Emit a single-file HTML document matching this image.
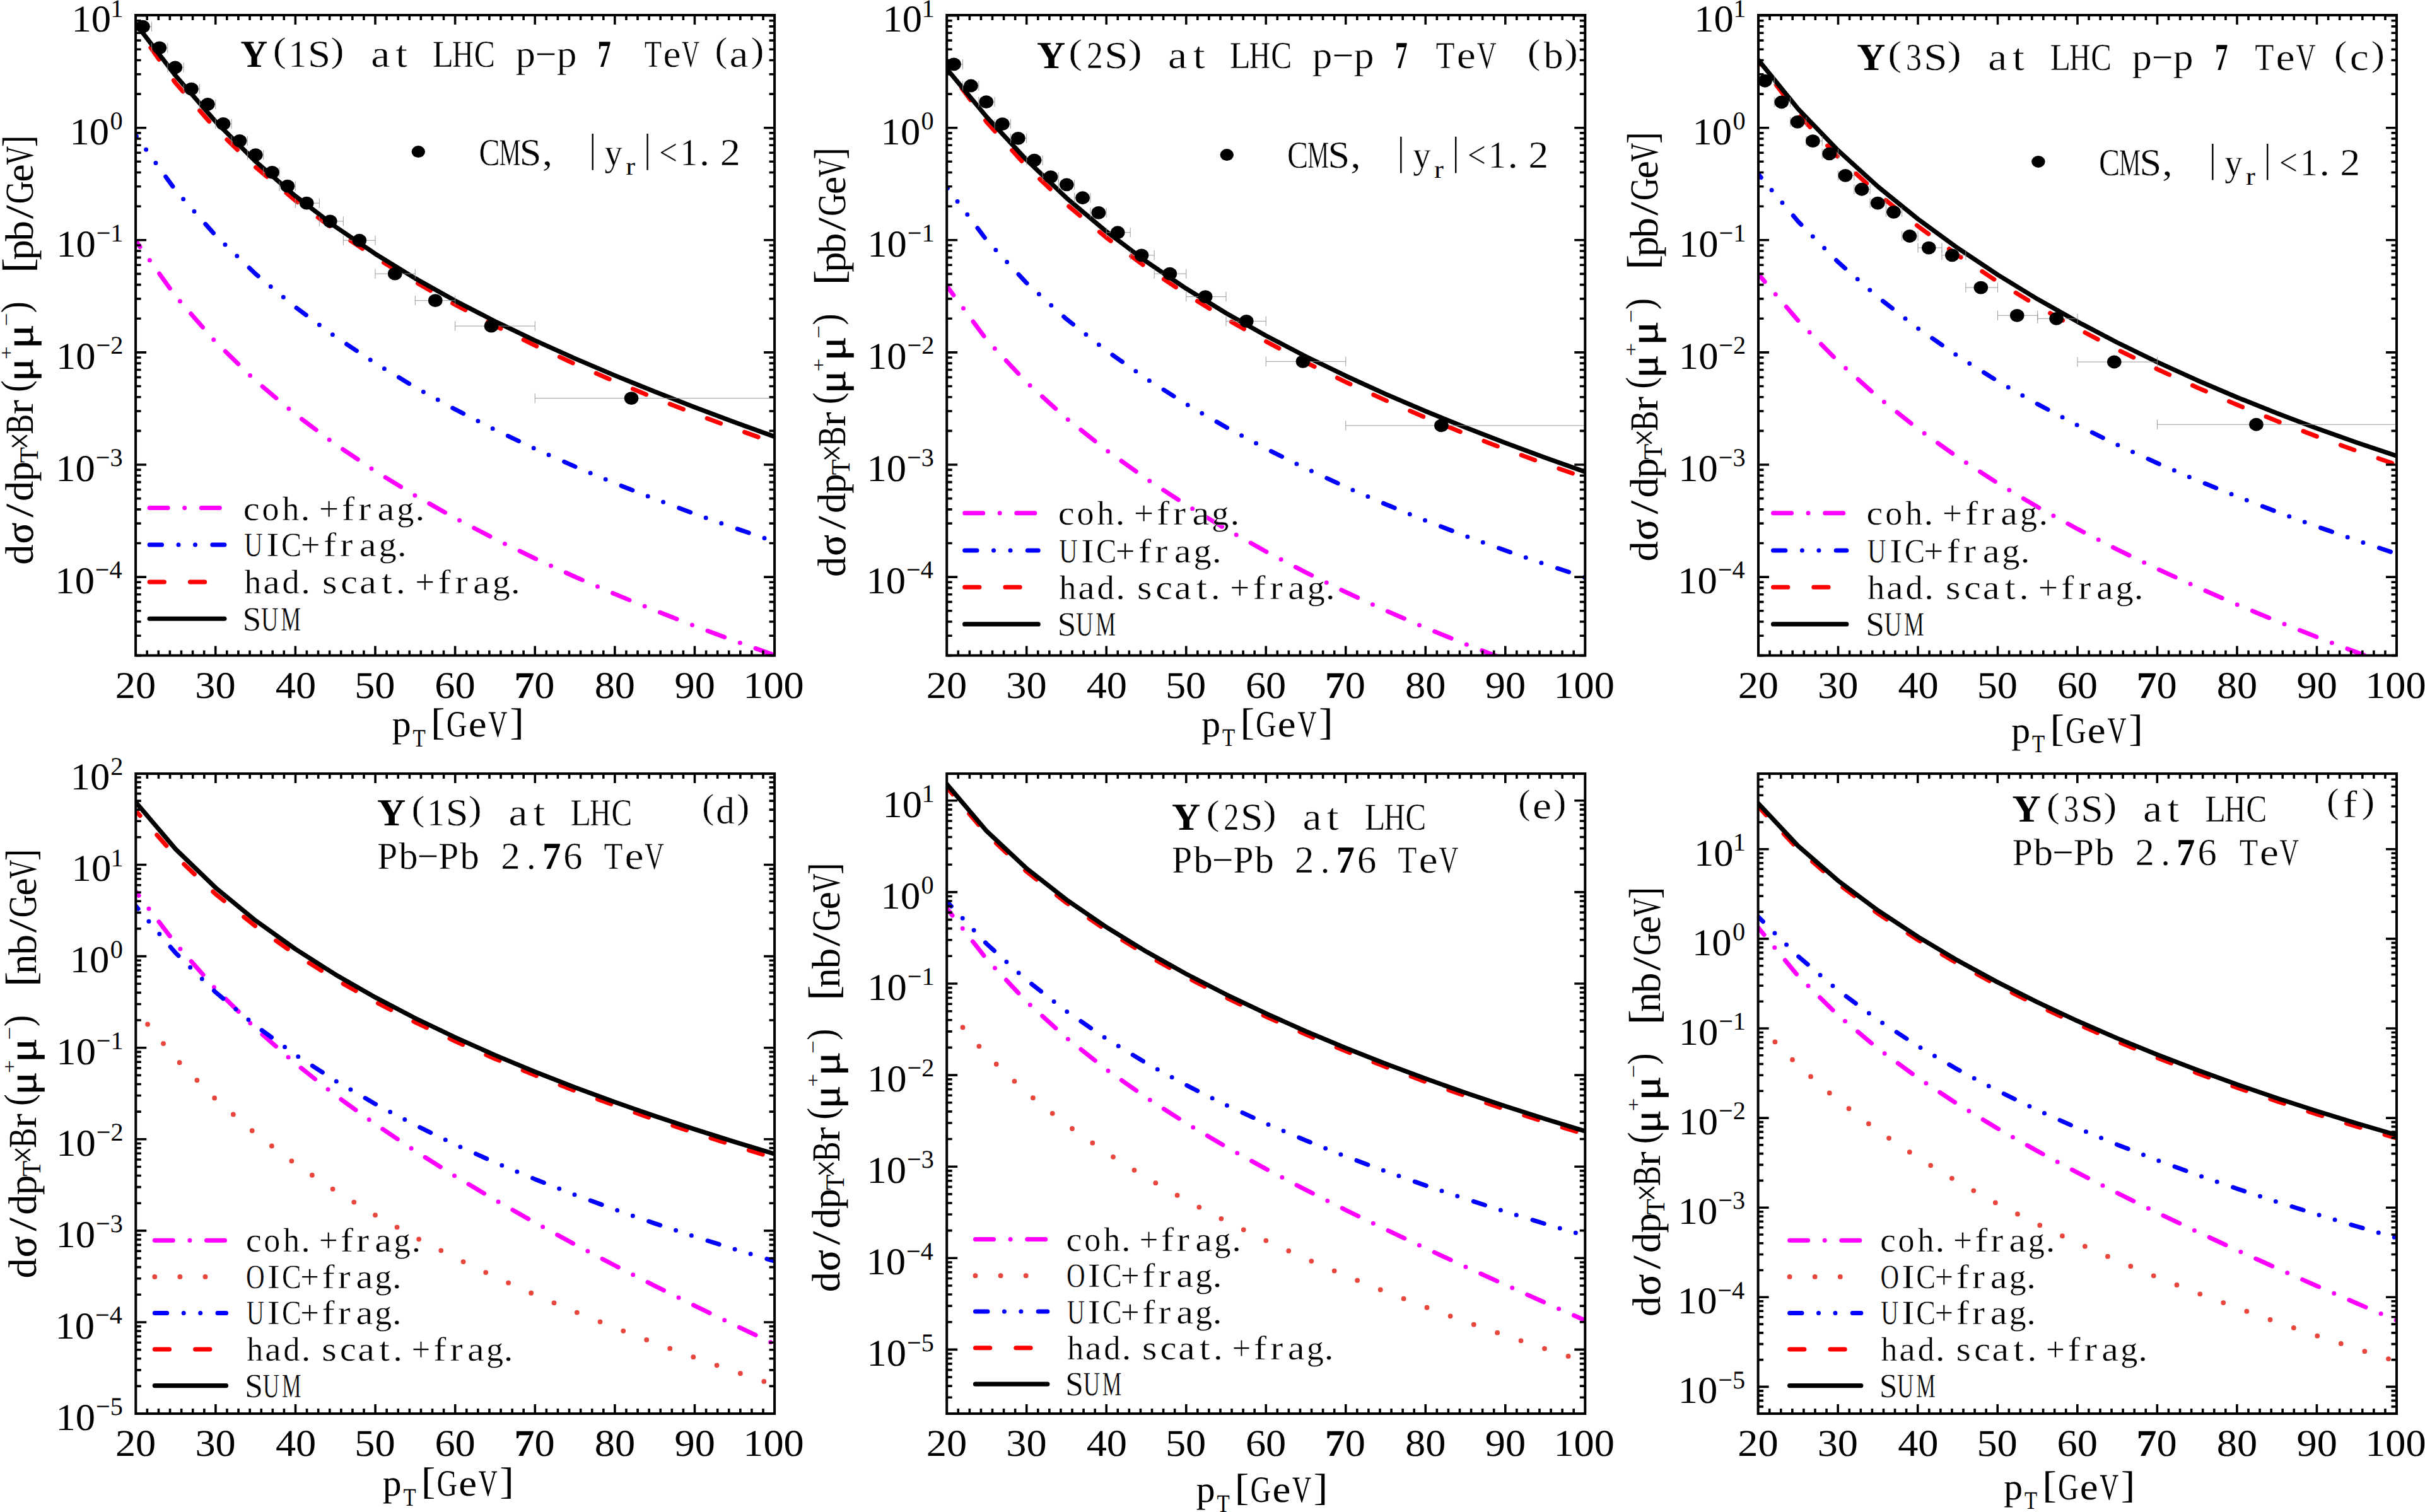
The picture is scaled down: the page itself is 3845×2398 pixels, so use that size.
<!DOCTYPE html>
<html><head><meta charset="utf-8"><title>Upsilon pT spectra</title>
<style>html,body{margin:0;padding:0;background:#fff;}svg{display:block;}text{font-family:"Liberation Serif",serif;font-kerning:none;text-rendering:geometricPrecision;}.t{stroke:#fff;stroke-width:0.45px;paint-order:normal;}</style>
</head><body>
<svg width="3845" height="2398" viewBox="0 0 3845 2398">
<rect width="3845" height="2398" fill="#fff"/>
<clipPath id="clip-a"><rect x="215.1" y="24" width="1013" height="1015.6"/></clipPath>
<g clip-path="url(#clip-a)"><path d="M215.1 381.87 L278.41 469.83 L341.72 542.16 L405.04 603.61 L468.35 657.1 L531.66 704.51 L594.97 747.18 L658.29 786.02 L721.6 821.73 L784.91 854.84 L848.22 885.74 L911.54 914.76 L974.85 942.15 L1038.16 968.12 L1101.47 992.84 L1164.79 1016.45 L1228.1 1039.07" fill="none" stroke="#FF00FF" stroke-width="7" stroke-linecap="round" stroke-linejoin="round" stroke-dasharray="28.57 26.2 0 26.2" stroke-dashoffset="16.71"/><path d="M215.1 214.53 L278.41 301.83 L341.72 373.42 L405.04 434.2 L468.35 487.06 L531.66 533.89 L594.97 575.96 L658.29 614.18 L721.6 649.23 L784.91 681.61 L848.22 711.73 L911.54 739.89 L974.85 766.36 L1038.16 791.32 L1101.47 814.97 L1164.79 837.43 L1228.1 858.83" fill="none" stroke="#0000FF" stroke-width="7" stroke-linecap="round" stroke-linejoin="round" stroke-dasharray="19.11 26.1 0 26.1 0 26.89" stroke-dashoffset="17.08"/><path d="M215.1 41.58 L278.41 131.74 L341.72 204.04 L405.04 265 L468.35 318.08 L531.66 365.31 L594.97 408.02 L658.29 447.08 L721.6 483.12 L784.91 516.62 L848.22 547.92 L911.54 577.32 L974.85 605.04 L1038.16 631.26 L1101.47 656.14 L1164.79 679.79 L1228.1 702.34" fill="none" stroke="#FF0000" stroke-width="7" stroke-linecap="round" stroke-linejoin="round" stroke-dasharray="22.95 40.38" stroke-dashoffset="21.82"/><path d="M215.1 37.56 L278.41 119.99 L341.72 192.7 L405.04 255.86 L468.35 310.93 L531.66 359.4 L594.97 402.58 L658.29 441.49 L721.6 476.96 L784.91 509.63 L848.22 540.02 L911.54 568.53 L974.85 595.5 L1038.16 621.19 L1101.47 645.82 L1164.79 669.56 L1228.1 692.56" fill="none" stroke="#000" stroke-width="7.2" stroke-linecap="round" stroke-linejoin="round"/><path d="M215.1 42.24H240.42M215.1 34.54V49.94M240.42 34.54V49.94M240.42 75.97H265.75M240.42 68.27V83.67M265.75 68.27V83.67M265.75 107H291.07M265.75 99.3V114.7M291.07 99.3V114.7M291.07 141.07H316.4M291.07 133.37V148.77M316.4 133.37V148.77M316.4 165.35H341.72M316.4 157.65V173.05M341.72 157.65V173.05M341.72 196.39H367.05M341.72 188.69V204.09M367.05 188.69V204.09M367.05 223.37H392.38M367.05 215.67V231.07M392.38 215.67V231.07M392.38 245.63H417.7M392.38 237.93V253.33M417.7 237.93V253.33M417.7 273.29H443.02M417.7 265.59V280.99M443.02 265.59V280.99M443.02 295.21H468.35M443.02 287.51V302.91M468.35 287.51V302.91M468.35 322.2H506.34M468.35 314.5V329.9M506.34 314.5V329.9M506.34 350.87H544.32M506.34 343.17V358.57M544.32 343.17V358.57M544.32 381.23H594.97M544.32 373.53V388.93M594.97 373.53V388.93M594.97 434.18H658.29M594.97 426.48V441.88M658.29 426.48V441.88M658.29 476.68H721.6M658.29 468.98V484.38M721.6 468.98V484.38M721.6 517.14H848.22M721.6 509.44V524.84M848.22 509.44V524.84M848.22 631.59H1228.1M848.22 623.89V639.29M1228.1 623.89V639.29" stroke="#909090" stroke-width="0.9" fill="none"/><ellipse cx="226.49" cy="42.24" rx="11.3" ry="10.4"/><ellipse cx="252.8" cy="75.97" rx="11.3" ry="10.4"/><ellipse cx="277.76" cy="107" rx="11.3" ry="10.4"/><ellipse cx="303.4" cy="141.07" rx="11.3" ry="10.4"/><ellipse cx="329.37" cy="165.35" rx="11.3" ry="10.4"/><ellipse cx="353.99" cy="196.39" rx="11.3" ry="10.4"/><ellipse cx="379.96" cy="223.37" rx="11.3" ry="10.4"/><ellipse cx="405.26" cy="245.63" rx="11.3" ry="10.4"/><ellipse cx="431.57" cy="273.29" rx="11.3" ry="10.4"/><ellipse cx="455.86" cy="295.21" rx="11.3" ry="10.4"/><ellipse cx="486.21" cy="322.2" rx="11.3" ry="10.4"/><ellipse cx="523.32" cy="350.87" rx="11.3" ry="10.4"/><ellipse cx="569.87" cy="381.23" rx="11.3" ry="10.4"/><ellipse cx="626.2" cy="434.18" rx="11.3" ry="10.4"/><ellipse cx="690.28" cy="476.68" rx="11.3" ry="10.4"/><ellipse cx="779.03" cy="517.14" rx="11.3" ry="10.4"/><ellipse cx="1001.07" cy="631.59" rx="11.3" ry="10.4"/></g>
<path d="M233.19 1039.6V1031.6M233.19 24V32M251.28 1039.6V1031.6M251.28 24V32M269.37 1039.6V1031.6M269.37 24V32M287.46 1039.6V1031.6M287.46 24V32M305.55 1039.6V1031.6M305.55 24V32M323.64 1039.6V1031.6M323.64 24V32M341.72 1039.6V1024.6M341.72 24V39M359.81 1039.6V1031.6M359.81 24V32M377.9 1039.6V1031.6M377.9 24V32M395.99 1039.6V1031.6M395.99 24V32M414.08 1039.6V1031.6M414.08 24V32M432.17 1039.6V1031.6M432.17 24V32M450.26 1039.6V1031.6M450.26 24V32M468.35 1039.6V1024.6M468.35 24V39M486.44 1039.6V1031.6M486.44 24V32M504.53 1039.6V1031.6M504.53 24V32M522.62 1039.6V1031.6M522.62 24V32M540.71 1039.6V1031.6M540.71 24V32M558.8 1039.6V1031.6M558.8 24V32M576.89 1039.6V1031.6M576.89 24V32M594.97 1039.6V1024.6M594.97 24V39M613.06 1039.6V1031.6M613.06 24V32M631.15 1039.6V1031.6M631.15 24V32M649.24 1039.6V1031.6M649.24 24V32M667.33 1039.6V1031.6M667.33 24V32M685.42 1039.6V1031.6M685.42 24V32M703.51 1039.6V1031.6M703.51 24V32M721.6 1039.6V1024.6M721.6 24V39M739.69 1039.6V1031.6M739.69 24V32M757.78 1039.6V1031.6M757.78 24V32M775.87 1039.6V1031.6M775.87 24V32M793.96 1039.6V1031.6M793.96 24V32M812.05 1039.6V1031.6M812.05 24V32M830.14 1039.6V1031.6M830.14 24V32M848.22 1039.6V1024.6M848.22 24V39M866.31 1039.6V1031.6M866.31 24V32M884.4 1039.6V1031.6M884.4 24V32M902.49 1039.6V1031.6M902.49 24V32M920.58 1039.6V1031.6M920.58 24V32M938.67 1039.6V1031.6M938.67 24V32M956.76 1039.6V1031.6M956.76 24V32M974.85 1039.6V1024.6M974.85 24V39M992.94 1039.6V1031.6M992.94 24V32M1011.03 1039.6V1031.6M1011.03 24V32M1029.12 1039.6V1031.6M1029.12 24V32M1047.21 1039.6V1031.6M1047.21 24V32M1065.3 1039.6V1031.6M1065.3 24V32M1083.39 1039.6V1031.6M1083.39 24V32M1101.47 1039.6V1024.6M1101.47 24V39M1119.56 1039.6V1031.6M1119.56 24V32M1137.65 1039.6V1031.6M1137.65 24V32M1155.74 1039.6V1031.6M1155.74 24V32M1173.83 1039.6V1031.6M1173.83 24V32M1191.92 1039.6V1031.6M1191.92 24V32M1210.01 1039.6V1031.6M1210.01 24V32M215.1 1039.59H223.6M1228.1 1039.59H1219.6M215.1 1008.22H223.6M1228.1 1008.22H1219.6M215.1 985.97H223.6M1228.1 985.97H1219.6M215.1 968.71H223.6M1228.1 968.71H1219.6M215.1 954.61H223.6M1228.1 954.61H1219.6M215.1 942.69H223.6M1228.1 942.69H1219.6M215.1 932.36H223.6M1228.1 932.36H1219.6M215.1 923.25H223.6M1228.1 923.25H1219.6M215.1 915.1H232.1M1228.1 915.1H1211.1M215.1 861.49H223.6M1228.1 861.49H1219.6M215.1 830.12H223.6M1228.1 830.12H1219.6M215.1 807.87H223.6M1228.1 807.87H1219.6M215.1 790.61H223.6M1228.1 790.61H1219.6M215.1 776.51H223.6M1228.1 776.51H1219.6M215.1 764.59H223.6M1228.1 764.59H1219.6M215.1 754.26H223.6M1228.1 754.26H1219.6M215.1 745.15H223.6M1228.1 745.15H1219.6M215.1 737H232.1M1228.1 737H1211.1M215.1 683.39H223.6M1228.1 683.39H1219.6M215.1 652.02H223.6M1228.1 652.02H1219.6M215.1 629.77H223.6M1228.1 629.77H1219.6M215.1 612.51H223.6M1228.1 612.51H1219.6M215.1 598.41H223.6M1228.1 598.41H1219.6M215.1 586.49H223.6M1228.1 586.49H1219.6M215.1 576.16H223.6M1228.1 576.16H1219.6M215.1 567.05H223.6M1228.1 567.05H1219.6M215.1 558.9H232.1M1228.1 558.9H1211.1M215.1 505.29H223.6M1228.1 505.29H1219.6M215.1 473.92H223.6M1228.1 473.92H1219.6M215.1 451.67H223.6M1228.1 451.67H1219.6M215.1 434.41H223.6M1228.1 434.41H1219.6M215.1 420.31H223.6M1228.1 420.31H1219.6M215.1 408.39H223.6M1228.1 408.39H1219.6M215.1 398.06H223.6M1228.1 398.06H1219.6M215.1 388.95H223.6M1228.1 388.95H1219.6M215.1 380.8H232.1M1228.1 380.8H1211.1M215.1 327.19H223.6M1228.1 327.19H1219.6M215.1 295.82H223.6M1228.1 295.82H1219.6M215.1 273.57H223.6M1228.1 273.57H1219.6M215.1 256.31H223.6M1228.1 256.31H1219.6M215.1 242.21H223.6M1228.1 242.21H1219.6M215.1 230.29H223.6M1228.1 230.29H1219.6M215.1 219.96H223.6M1228.1 219.96H1219.6M215.1 210.85H223.6M1228.1 210.85H1219.6M215.1 202.7H232.1M1228.1 202.7H1211.1M215.1 149.09H223.6M1228.1 149.09H1219.6M215.1 117.72H223.6M1228.1 117.72H1219.6M215.1 95.47H223.6M1228.1 95.47H1219.6M215.1 78.21H223.6M1228.1 78.21H1219.6M215.1 64.11H223.6M1228.1 64.11H1219.6M215.1 52.19H223.6M1228.1 52.19H1219.6M215.1 41.86H223.6M1228.1 41.86H1219.6M215.1 32.75H223.6M1228.1 32.75H1219.6M215.1 24.6H232.1M1228.1 24.6H1211.1" stroke="#000" stroke-width="3.6" fill="none"/><rect x="215.1" y="24" width="1013" height="1015.6" fill="none" stroke="#000" stroke-width="4"/>
<text transform="translate(182.75 1106.7) scale(1.072 1)" font-size="60">2</text><text transform="translate(214.91 1106.7) scale(1.072 1)" font-size="60">0</text><text transform="translate(309.25 1106.7) scale(1.072 1)" font-size="60">3</text><text transform="translate(341.41 1106.7) scale(1.072 1)" font-size="60">0</text><text transform="translate(436.79 1106.7) scale(1.072 1)" font-size="60">4</text><text transform="translate(468.95 1106.7) scale(1.072 1)" font-size="60">0</text><text transform="translate(562.17 1106.7) scale(1.072 1)" font-size="60">5</text><text transform="translate(594.33 1106.7) scale(1.072 1)" font-size="60">0</text><text transform="translate(689.28 1106.7) scale(1.072 1)" font-size="60">6</text><text transform="translate(721.44 1106.7) scale(1.072 1)" font-size="60">0</text><text transform="translate(815.17 1106.7) scale(1.072 1)" font-size="60" font-weight="bold">7</text><text transform="translate(847.33 1106.7) scale(1.072 1)" font-size="60">0</text><text transform="translate(942.69 1106.7) scale(1.072 1)" font-size="60">8</text><text transform="translate(974.85 1106.7) scale(1.072 1)" font-size="60">0</text><text transform="translate(1069.5 1106.7) scale(1.072 1)" font-size="60">9</text><text transform="translate(1101.66 1106.7) scale(1.072 1)" font-size="60">0</text><text transform="translate(1178.26 1106.7) scale(1.072 1)" font-size="60">1</text><text transform="translate(1210.42 1106.7) scale(1.072 1)" font-size="60">0</text><text transform="translate(1242.58 1106.7) scale(1.072 1)" font-size="60">0</text><text transform="translate(150.85 917.3) scale(1.000 1)" font-size="40.3">−4</text><text transform="translate(87.36 940.9) scale(1.043 1)" font-size="60">10</text><text transform="translate(151.8 739.2) scale(1.000 1)" font-size="40.3">−3</text><text transform="translate(88.3 762.8) scale(1.043 1)" font-size="60">10</text><text transform="translate(152.45 561.1) scale(1.000 1)" font-size="40.3">−2</text><text transform="translate(88.95 584.7) scale(1.043 1)" font-size="60">10</text><text transform="translate(152.64 383) scale(1.000 1)" font-size="40.3">−1</text><text transform="translate(89.15 406.6) scale(1.043 1)" font-size="60">10</text><text transform="translate(174.48 204.9) scale(1.000 1)" font-size="40.3">0</text><text transform="translate(110.52 228.5) scale(1.043 1)" font-size="60">10</text><text transform="translate(175.37 26.8) scale(1.000 1)" font-size="40.3">1</text><text transform="translate(113.41 50.4) scale(1.043 1)" font-size="60">10</text>
<text transform="translate(381.35 105.8) scale(0.982 1.000)" font-size="60.6" font-weight="bold">Υ</text><text class="t" transform="translate(432.8 98.33) scale(1.051 0.928)" font-size="60.6">(</text><text class="t" transform="translate(457.85 105.8) scale(0.937 1.000)" font-size="60.6">1</text><text class="t" transform="translate(487.91 105.8) scale(1.072 1.000)" font-size="60.6">S</text><text class="t" transform="translate(524.28 98.33) scale(1.051 0.928)" font-size="60.6">)</text><text class="t" transform="translate(588.28 105.8) scale(1.120 1.000)" font-size="60.6">a</text><text class="t" transform="translate(627.3 105.8) scale(1.120 1.000)" font-size="60.6">t</text><text class="t" transform="translate(685.83 105.8) scale(0.897 1.000)" font-size="60.6">L</text><text class="t" transform="translate(717.05 105.8) scale(0.770 1.000)" font-size="60.6">H</text><text class="t" transform="translate(751.69 105.8) scale(0.820 1.000)" font-size="60.6">C</text><text class="t" transform="translate(817.59 105.8) scale(1.033 1.000)" font-size="60.6">p</text><text class="t" transform="translate(848.74 105.8) scale(0.988 1.000)" font-size="60.6">−</text><text class="t" transform="translate(882.63 105.8) scale(1.048 1.000)" font-size="60.6">p</text><text transform="translate(947.38 105.8) scale(0.698 1.000)" font-size="60.6" font-weight="bold">7</text><text class="t" transform="translate(1021.69 105.8) scale(0.738 1.000)" font-size="60.6">T</text><text class="t" transform="translate(1051.5 105.8) scale(1.042 1.000)" font-size="60.6">e</text><text class="t" transform="translate(1080.94 105.8) scale(0.644 1.000)" font-size="60.6">V</text><text class="t" transform="translate(1133.39 98.33) scale(0.982 0.928)" font-size="60.6">(</text><text class="t" transform="translate(1156.56 105.8) scale(1.120 1.000)" font-size="60.6">a</text><text class="t" transform="translate(1190.58 98.33) scale(1.034 0.928)" font-size="60.6">)</text>
<path d="M237.1 805.6H355.9" fill="none" stroke="#FF00FF" stroke-width="7" stroke-linecap="round" stroke-linejoin="round" stroke-dasharray="29 26.6 0 26.6"/>
<text class="t" transform="translate(385.78 824.6) scale(1.081 1.000)" font-size="54">c</text>
<text class="t" transform="translate(415.45 824.6) scale(0.998 1.000)" font-size="54">o</text>
<text class="t" transform="translate(447.43 824.6) scale(0.997 1.000)" font-size="54">h</text>
<text class="t" transform="translate(476.56 824.6) scale(1.120 1.000)" font-size="54">.</text>
<text class="t" transform="translate(506.11 824.6) scale(1.023 1.000)" font-size="54">+</text>
<text class="t" transform="translate(542.12 824.6) scale(1.120 1.000)" font-size="54">f</text>
<text class="t" transform="translate(567.93 824.6) scale(1.120 1.000)" font-size="54">r</text>
<text class="t" transform="translate(598.53 824.6) scale(1.120 1.000)" font-size="54">a</text>
<text class="t" transform="translate(629.3 824.6) scale(1.006 1.000)" font-size="54">g</text>
<text class="t" transform="translate(658.33 824.6) scale(1.120 1.000)" font-size="54">.</text>
<path d="M237.1 864H355.9" fill="none" stroke="#0000FF" stroke-width="7" stroke-linecap="round" stroke-linejoin="round" stroke-dasharray="19.4 26.5 0 26.5 0 27.3"/>
<text class="t" transform="translate(387.15 882.2) scale(0.751 1.000)" font-size="54">U</text>
<text class="t" transform="translate(422.13 882.2) scale(1.120 1.000)" font-size="54">I</text>
<text class="t" transform="translate(445.94 882.2) scale(0.895 1.000)" font-size="54">C</text>
<text class="t" transform="translate(476.56 882.2) scale(1.022 1.000)" font-size="54">+</text>
<text class="t" transform="translate(513.01 882.2) scale(1.120 1.000)" font-size="54">f</text>
<text class="t" transform="translate(539.28 882.2) scale(1.120 1.000)" font-size="54">r</text>
<text class="t" transform="translate(569.86 882.2) scale(1.120 1.000)" font-size="54">a</text>
<text class="t" transform="translate(600.53 882.2) scale(1.046 1.000)" font-size="54">g</text>
<text class="t" transform="translate(629.64 882.2) scale(1.120 1.000)" font-size="54">.</text>
<path d="M237.1 922.9H355.9" fill="none" stroke="#FF0000" stroke-width="7" stroke-linecap="round" stroke-linejoin="round" stroke-dasharray="23.3 41"/>
<text class="t" transform="translate(387.48 940.8) scale(0.993 1.000)" font-size="54">h</text>
<text class="t" transform="translate(417.16 940.8) scale(1.110 1.000)" font-size="54">a</text>
<text class="t" transform="translate(447.62 940.8) scale(1.010 1.000)" font-size="54">d</text>
<text class="t" transform="translate(477.08 940.8) scale(1.120 1.000)" font-size="54">.</text>
<text class="t" transform="translate(511.1 940.8) scale(1.120 1.000)" font-size="54">s</text>
<text class="t" transform="translate(540.17 940.8) scale(1.120 1.000)" font-size="54">c</text>
<text class="t" transform="translate(570.06 940.8) scale(1.120 1.000)" font-size="54">a</text>
<text class="t" transform="translate(604.98 940.8) scale(1.120 1.000)" font-size="54">t</text>
<text class="t" transform="translate(627.73 940.8) scale(1.120 1.000)" font-size="54">.</text>
<text class="t" transform="translate(658.14 940.8) scale(1.018 1.000)" font-size="54">+</text>
<text class="t" transform="translate(694.41 940.8) scale(1.120 1.000)" font-size="54">f</text>
<text class="t" transform="translate(721.53 940.8) scale(1.120 1.000)" font-size="54">r</text>
<text class="t" transform="translate(750.08 940.8) scale(1.120 1.000)" font-size="54">a</text>
<text class="t" transform="translate(780.68 940.8) scale(1.042 1.000)" font-size="54">g</text>
<text class="t" transform="translate(809.65 940.8) scale(1.120 1.000)" font-size="54">.</text>
<path d="M237.1 981.25H355.9" fill="none" stroke="#000" stroke-width="7.2" stroke-linecap="round" stroke-linejoin="round"/>
<text class="t" transform="translate(384.41 1000) scale(0.995 1.000)" font-size="54">S</text>
<text class="t" transform="translate(413.99 1000) scale(0.703 1.000)" font-size="54">U</text>
<text class="t" transform="translate(445.32 1000) scale(0.661 1.000)" font-size="54">M</text>
<ellipse cx="663.3" cy="240.6" rx="10.7" ry="9.5"/>
<text class="t" transform="translate(759.49 261.7) scale(0.820 1.000)" font-size="60.6">C</text>
<text class="t" transform="translate(791.45 261.7) scale(0.634 1.000)" font-size="60.6">M</text>
<text class="t" transform="translate(823.86 261.7) scale(1.027 1.000)" font-size="60.6">S</text>
<text class="t" transform="translate(859.39 261.7) scale(1.120 1.000)" font-size="60.6">,</text>
<text class="t" transform="translate(958.55 261.7) scale(0.937 1.000)" font-size="60.6">y</text>
<text class="t" transform="translate(1045.34 261.7) scale(0.849 1.000)" font-size="60.6">&lt;</text>
<text class="t" transform="translate(1078.49 261.7) scale(0.914 1.000)" font-size="60.6">1</text>
<text class="t" transform="translate(1108.57 261.7) scale(1.120 1.000)" font-size="60.6">.</text>
<text class="t" transform="translate(1141.72 261.7) scale(1.058 1.000)" font-size="60.6">2</text>
<text transform="translate(992.31 276.8) scale(1.120 1.000)" font-size="40">r</text>
<path d="M939.73 212.1V269.7 M1026.62 212.1V269.7" stroke="#000" stroke-width="2.4"/>
<text transform="translate(621.74 1168.1) scale(1.014 1.000)" font-size="59">p</text><text transform="translate(654.6 1183.6) scale(0.829 1.000)" font-size="40">T</text><text transform="translate(683.06 1165.27) scale(1.150 1.018)" font-size="59">[</text><text transform="translate(708.06 1168.1) scale(0.759 1.000)" font-size="59">G</text><text transform="translate(742.66 1168.1) scale(1.104 1.000)" font-size="59">e</text><text transform="translate(774.33 1168.1) scale(0.705 1.000)" font-size="59">V</text><text transform="translate(808.14 1165.27) scale(1.150 1.018)" font-size="59">]</text>
<text transform="translate(52.2 878.85) rotate(-90) scale(1.023 1.000)" x="-16.5" font-size="63">d</text><text transform="translate(52.2 844.77) rotate(-90) scale(0.983 1.000)" x="-17.7" font-size="63" stroke="#000" stroke-width="0.7">σ</text><text transform="translate(52.2 809.9) rotate(-90) scale(1.250 1.000)" x="-8.75" font-size="63">/</text><text transform="translate(52.2 778.01) rotate(-90) scale(1.023 1.000)" x="-16.5" font-size="63">d</text><text transform="translate(52.2 748.32) rotate(-90) scale(1.003 1.000)" x="-15.03" font-size="63">p</text><text transform="translate(59.6 721.41) rotate(-90) scale(0.972 1.000)" x="-12.86" font-size="42">T</text><text transform="translate(52.2 699.59) rotate(-90) scale(0.786 1.000)" x="-17.8" font-size="63">×</text><text transform="translate(52.2 673.23) rotate(-90) scale(0.754 1.000)" x="-20.38" font-size="63">B</text><text transform="translate(52.2 645.23) rotate(-90) scale(1.107 1.000)" x="-10.84" font-size="63">r</text><text transform="translate(44.84 612.35) rotate(-90) scale(0.893 0.996)" x="-10.86" font-size="63">(</text><text transform="translate(52.2 585) rotate(-90) scale(1.085 1.000)" x="-18.15" font-size="63" stroke="#000" stroke-width="0.7">μ</text><text transform="translate(20.46 559.59) rotate(-90) scale(1.228 1.000)" x="-8.47" font-size="30">+</text><text transform="translate(52.2 532.28) rotate(-90) scale(1.138 1.000)" x="-18.15" font-size="63" stroke="#000" stroke-width="0.7">μ</text><text transform="translate(20.26 506.87) rotate(-90) scale(1.228 1.000)" x="-8.47" font-size="30">−</text><text transform="translate(44.84 487.49) rotate(-90) scale(0.856 0.996)" x="-10.12" font-size="63">)</text><text transform="translate(50.08 419.59) rotate(-90) scale(1.165 1.059)" x="-11.69" font-size="63">[</text><text transform="translate(52.2 397.02) rotate(-90) scale(1.028 1.000)" x="-15.03" font-size="63">p</text><text transform="translate(52.2 367.62) rotate(-90) scale(1.031 1.000)" x="-14.55" font-size="63">b</text><text transform="translate(52.2 336.28) rotate(-90) scale(1.250 1.000)" x="-8.75" font-size="63">/</text><text transform="translate(52.2 304.99) rotate(-90) scale(0.793 1.000)" x="-23.06" font-size="63">G</text><text transform="translate(52.2 274.35) rotate(-90) scale(1.021 1.000)" x="-14.12" font-size="63">e</text><text transform="translate(52.2 246.75) rotate(-90) scale(0.653 1.000)" x="-22.75" font-size="63">V</text><text transform="translate(50.08 224.88) rotate(-90) scale(0.895 1.059)" x="-9.29" font-size="63">]</text>
<clipPath id="clip-b"><rect x="1501.2" y="24" width="1012.1" height="1015.6"/></clipPath>
<g clip-path="url(#clip-b)"><path d="M1501.2 453.59 L1564.46 538.96 L1627.71 606.45 L1690.97 663.62 L1754.23 713.95 L1817.48 759.32 L1880.74 800.81 L1943.99 839.1 L2007.25 874.68 L2070.51 907.89 L2133.76 938.99 L2197.02 968.19 L2260.28 995.65 L2323.53 1021.53 L2386.79 1045.93 L2450.04 1068.96 L2513.3 1090.72" fill="none" stroke="#FF00FF" stroke-width="7" stroke-linecap="round" stroke-linejoin="round" stroke-dasharray="28.57 26.2 0 26.2" stroke-dashoffset="10.67"/><path d="M1501.2 296.95 L1564.46 381.04 L1627.71 448.77 L1690.97 506.06 L1754.23 556.04 L1817.48 600.56 L1880.74 640.81 L1943.99 677.59 L2007.25 711.5 L2070.51 742.95 L2133.76 772.29 L2197.02 799.77 L2260.28 825.62 L2323.53 850 L2386.79 873.06 L2450.04 894.93 L2513.3 915.7" fill="none" stroke="#0000FF" stroke-width="7" stroke-linecap="round" stroke-linejoin="round" stroke-dasharray="19.11 26.1 0 26.1 0 26.89" stroke-dashoffset="17.14"/><path d="M1501.2 107.63 L1564.46 193.57 L1627.71 264.01 L1690.97 324.14 L1754.23 376.87 L1817.48 423.96 L1880.74 466.58 L1943.99 505.55 L2007.25 541.47 L2070.51 574.78 L2133.76 605.85 L2197.02 634.94 L2260.28 662.3 L2323.53 688.1 L2386.79 712.5 L2450.04 735.64 L2513.3 757.63" fill="none" stroke="#FF0000" stroke-width="7" stroke-linecap="round" stroke-linejoin="round" stroke-dasharray="22.95 40.38" stroke-dashoffset="23.07"/><path d="M1501.2 109.22 L1564.46 185.54 L1627.71 253.73 L1690.97 313.91 L1754.23 367.21 L1817.48 414.79 L1880.74 457.66 L1943.99 496.62 L2007.25 532.35 L2070.51 565.37 L2133.76 596.11 L2197.02 624.92 L2260.28 652.07 L2323.53 677.81 L2386.79 702.33 L2450.04 725.78 L2513.3 748.3" fill="none" stroke="#000" stroke-width="7.2" stroke-linecap="round" stroke-linejoin="round"/><path d="M1501.2 101.94H1526.5M1501.2 94.24V109.64M1526.5 94.24V109.64M1526.5 136.01H1551.81M1526.5 128.31V143.71M1551.81 128.31V143.71M1551.81 161.64H1577.11M1551.81 153.94V169.34M1577.11 153.94V169.34M1577.11 196.72H1602.41M1577.11 189.02V204.42M1602.41 189.02V204.42M1602.41 219.32H1627.71M1602.41 211.62V227.02M1627.71 211.62V227.02M1627.71 254.06H1653.02M1627.71 246.36V261.76M1653.02 246.36V261.76M1653.02 280.71H1678.32M1653.02 273.01V288.41M1678.32 273.01V288.41M1678.32 292.85H1703.62M1678.32 285.15V300.55M1703.62 285.15V300.55M1703.62 313.77H1728.92M1703.62 306.07V321.47M1728.92 306.07V321.47M1728.92 337.38H1754.23M1728.92 329.68V345.08M1754.23 329.68V345.08M1754.23 368.75H1792.18M1754.23 361.05V376.45M1792.18 361.05V376.45M1792.18 404.84H1830.13M1792.18 397.14V412.54M1830.13 397.14V412.54M1830.13 434.18H1880.74M1830.13 426.48V441.88M1880.74 426.48V441.88M1880.74 470.61H1943.99M1880.74 462.91V478.31M1943.99 462.91V478.31M1943.99 509.4H2007.25M1943.99 501.7V517.1M2007.25 501.7V517.1M2007.25 573.35H2133.76M2007.25 565.65V581.05M2133.76 565.65V581.05M2133.76 674.94H2513.3M2133.76 667.24V682.64M2513.3 667.24V682.64" stroke="#909090" stroke-width="0.9" fill="none"/><ellipse cx="1512.49" cy="101.94" rx="11.3" ry="10.4"/><ellipse cx="1539.48" cy="136.01" rx="11.3" ry="10.4"/><ellipse cx="1563.76" cy="161.64" rx="11.3" ry="10.4"/><ellipse cx="1589.4" cy="196.72" rx="11.3" ry="10.4"/><ellipse cx="1614.36" cy="219.32" rx="11.3" ry="10.4"/><ellipse cx="1639.99" cy="254.06" rx="11.3" ry="10.4"/><ellipse cx="1665.96" cy="280.71" rx="11.3" ry="10.4"/><ellipse cx="1691.26" cy="292.85" rx="11.3" ry="10.4"/><ellipse cx="1716.56" cy="313.77" rx="11.3" ry="10.4"/><ellipse cx="1741.86" cy="337.38" rx="11.3" ry="10.4"/><ellipse cx="1772.21" cy="368.75" rx="11.3" ry="10.4"/><ellipse cx="1809.99" cy="404.84" rx="11.3" ry="10.4"/><ellipse cx="1854.85" cy="434.18" rx="11.3" ry="10.4"/><ellipse cx="1911.18" cy="470.61" rx="11.3" ry="10.4"/><ellipse cx="1976.28" cy="509.4" rx="11.3" ry="10.4"/><ellipse cx="2065.95" cy="573.35" rx="11.3" ry="10.4"/><ellipse cx="2285.39" cy="674.94" rx="11.3" ry="10.4"/></g>
<path d="M1519.27 1039.6V1031.6M1519.27 24V32M1537.35 1039.6V1031.6M1537.35 24V32M1555.42 1039.6V1031.6M1555.42 24V32M1573.49 1039.6V1031.6M1573.49 24V32M1591.57 1039.6V1031.6M1591.57 24V32M1609.64 1039.6V1031.6M1609.64 24V32M1627.71 1039.6V1024.6M1627.71 24V39M1645.79 1039.6V1031.6M1645.79 24V32M1663.86 1039.6V1031.6M1663.86 24V32M1681.93 1039.6V1031.6M1681.93 24V32M1700.01 1039.6V1031.6M1700.01 24V32M1718.08 1039.6V1031.6M1718.08 24V32M1736.15 1039.6V1031.6M1736.15 24V32M1754.23 1039.6V1024.6M1754.23 24V39M1772.3 1039.6V1031.6M1772.3 24V32M1790.37 1039.6V1031.6M1790.37 24V32M1808.44 1039.6V1031.6M1808.44 24V32M1826.52 1039.6V1031.6M1826.52 24V32M1844.59 1039.6V1031.6M1844.59 24V32M1862.66 1039.6V1031.6M1862.66 24V32M1880.74 1039.6V1024.6M1880.74 24V39M1898.81 1039.6V1031.6M1898.81 24V32M1916.88 1039.6V1031.6M1916.88 24V32M1934.96 1039.6V1031.6M1934.96 24V32M1953.03 1039.6V1031.6M1953.03 24V32M1971.1 1039.6V1031.6M1971.1 24V32M1989.18 1039.6V1031.6M1989.18 24V32M2007.25 1039.6V1024.6M2007.25 24V39M2025.32 1039.6V1031.6M2025.32 24V32M2043.4 1039.6V1031.6M2043.4 24V32M2061.47 1039.6V1031.6M2061.47 24V32M2079.54 1039.6V1031.6M2079.54 24V32M2097.62 1039.6V1031.6M2097.62 24V32M2115.69 1039.6V1031.6M2115.69 24V32M2133.76 1039.6V1024.6M2133.76 24V39M2151.84 1039.6V1031.6M2151.84 24V32M2169.91 1039.6V1031.6M2169.91 24V32M2187.98 1039.6V1031.6M2187.98 24V32M2206.06 1039.6V1031.6M2206.06 24V32M2224.13 1039.6V1031.6M2224.13 24V32M2242.2 1039.6V1031.6M2242.2 24V32M2260.28 1039.6V1024.6M2260.28 24V39M2278.35 1039.6V1031.6M2278.35 24V32M2296.42 1039.6V1031.6M2296.42 24V32M2314.49 1039.6V1031.6M2314.49 24V32M2332.57 1039.6V1031.6M2332.57 24V32M2350.64 1039.6V1031.6M2350.64 24V32M2368.71 1039.6V1031.6M2368.71 24V32M2386.79 1039.6V1024.6M2386.79 24V39M2404.86 1039.6V1031.6M2404.86 24V32M2422.93 1039.6V1031.6M2422.93 24V32M2441.01 1039.6V1031.6M2441.01 24V32M2459.08 1039.6V1031.6M2459.08 24V32M2477.15 1039.6V1031.6M2477.15 24V32M2495.23 1039.6V1031.6M2495.23 24V32M1501.2 1039.59H1509.7M2513.3 1039.59H2504.8M1501.2 1008.22H1509.7M2513.3 1008.22H2504.8M1501.2 985.97H1509.7M2513.3 985.97H2504.8M1501.2 968.71H1509.7M2513.3 968.71H2504.8M1501.2 954.61H1509.7M2513.3 954.61H2504.8M1501.2 942.69H1509.7M2513.3 942.69H2504.8M1501.2 932.36H1509.7M2513.3 932.36H2504.8M1501.2 923.25H1509.7M2513.3 923.25H2504.8M1501.2 915.1H1518.2M2513.3 915.1H2496.3M1501.2 861.49H1509.7M2513.3 861.49H2504.8M1501.2 830.12H1509.7M2513.3 830.12H2504.8M1501.2 807.87H1509.7M2513.3 807.87H2504.8M1501.2 790.61H1509.7M2513.3 790.61H2504.8M1501.2 776.51H1509.7M2513.3 776.51H2504.8M1501.2 764.59H1509.7M2513.3 764.59H2504.8M1501.2 754.26H1509.7M2513.3 754.26H2504.8M1501.2 745.15H1509.7M2513.3 745.15H2504.8M1501.2 737H1518.2M2513.3 737H2496.3M1501.2 683.39H1509.7M2513.3 683.39H2504.8M1501.2 652.02H1509.7M2513.3 652.02H2504.8M1501.2 629.77H1509.7M2513.3 629.77H2504.8M1501.2 612.51H1509.7M2513.3 612.51H2504.8M1501.2 598.41H1509.7M2513.3 598.41H2504.8M1501.2 586.49H1509.7M2513.3 586.49H2504.8M1501.2 576.16H1509.7M2513.3 576.16H2504.8M1501.2 567.05H1509.7M2513.3 567.05H2504.8M1501.2 558.9H1518.2M2513.3 558.9H2496.3M1501.2 505.29H1509.7M2513.3 505.29H2504.8M1501.2 473.92H1509.7M2513.3 473.92H2504.8M1501.2 451.67H1509.7M2513.3 451.67H2504.8M1501.2 434.41H1509.7M2513.3 434.41H2504.8M1501.2 420.31H1509.7M2513.3 420.31H2504.8M1501.2 408.39H1509.7M2513.3 408.39H2504.8M1501.2 398.06H1509.7M2513.3 398.06H2504.8M1501.2 388.95H1509.7M2513.3 388.95H2504.8M1501.2 380.8H1518.2M2513.3 380.8H2496.3M1501.2 327.19H1509.7M2513.3 327.19H2504.8M1501.2 295.82H1509.7M2513.3 295.82H2504.8M1501.2 273.57H1509.7M2513.3 273.57H2504.8M1501.2 256.31H1509.7M2513.3 256.31H2504.8M1501.2 242.21H1509.7M2513.3 242.21H2504.8M1501.2 230.29H1509.7M2513.3 230.29H2504.8M1501.2 219.96H1509.7M2513.3 219.96H2504.8M1501.2 210.85H1509.7M2513.3 210.85H2504.8M1501.2 202.7H1518.2M2513.3 202.7H2496.3M1501.2 149.09H1509.7M2513.3 149.09H2504.8M1501.2 117.72H1509.7M2513.3 117.72H2504.8M1501.2 95.47H1509.7M2513.3 95.47H2504.8M1501.2 78.21H1509.7M2513.3 78.21H2504.8M1501.2 64.11H1509.7M2513.3 64.11H2504.8M1501.2 52.19H1509.7M2513.3 52.19H2504.8M1501.2 41.86H1509.7M2513.3 41.86H2504.8M1501.2 32.75H1509.7M2513.3 32.75H2504.8M1501.2 24.6H1518.2M2513.3 24.6H2496.3" stroke="#000" stroke-width="3.6" fill="none"/><rect x="1501.2" y="24" width="1012.1" height="1015.6" fill="none" stroke="#000" stroke-width="4"/>
<text transform="translate(1468.85 1106.7) scale(1.072 1)" font-size="60">2</text><text transform="translate(1501.01 1106.7) scale(1.072 1)" font-size="60">0</text><text transform="translate(1595.24 1106.7) scale(1.072 1)" font-size="60">3</text><text transform="translate(1627.4 1106.7) scale(1.072 1)" font-size="60">0</text><text transform="translate(1722.66 1106.7) scale(1.072 1)" font-size="60">4</text><text transform="translate(1754.82 1106.7) scale(1.072 1)" font-size="60">0</text><text transform="translate(1847.93 1106.7) scale(1.072 1)" font-size="60">5</text><text transform="translate(1880.09 1106.7) scale(1.072 1)" font-size="60">0</text><text transform="translate(1974.93 1106.7) scale(1.072 1)" font-size="60">6</text><text transform="translate(2007.09 1106.7) scale(1.072 1)" font-size="60">0</text><text transform="translate(2100.71 1106.7) scale(1.072 1)" font-size="60" font-weight="bold">7</text><text transform="translate(2132.87 1106.7) scale(1.072 1)" font-size="60">0</text><text transform="translate(2228.12 1106.7) scale(1.072 1)" font-size="60">8</text><text transform="translate(2260.28 1106.7) scale(1.072 1)" font-size="60">0</text><text transform="translate(2354.82 1106.7) scale(1.072 1)" font-size="60">9</text><text transform="translate(2386.98 1106.7) scale(1.072 1)" font-size="60">0</text><text transform="translate(2463.46 1106.7) scale(1.072 1)" font-size="60">1</text><text transform="translate(2495.62 1106.7) scale(1.072 1)" font-size="60">0</text><text transform="translate(2527.78 1106.7) scale(1.072 1)" font-size="60">0</text><text transform="translate(1436.95 917.3) scale(1.000 1)" font-size="40.3">−4</text><text transform="translate(1373.46 940.9) scale(1.043 1)" font-size="60">10</text><text transform="translate(1437.9 739.2) scale(1.000 1)" font-size="40.3">−3</text><text transform="translate(1374.4 762.8) scale(1.043 1)" font-size="60">10</text><text transform="translate(1438.55 561.1) scale(1.000 1)" font-size="40.3">−2</text><text transform="translate(1375.05 584.7) scale(1.043 1)" font-size="60">10</text><text transform="translate(1438.74 383) scale(1.000 1)" font-size="40.3">−1</text><text transform="translate(1375.25 406.6) scale(1.043 1)" font-size="60">10</text><text transform="translate(1460.58 204.9) scale(1.000 1)" font-size="40.3">0</text><text transform="translate(1396.62 228.5) scale(1.043 1)" font-size="60">10</text><text transform="translate(1461.47 26.8) scale(1.000 1)" font-size="40.3">1</text><text transform="translate(1399.51 50.4) scale(1.043 1)" font-size="60">10</text>
<text transform="translate(1644.1 108.1) scale(1.033 1.000)" font-size="60.6" font-weight="bold">Υ</text><text class="t" transform="translate(1694.21 100.63) scale(1.087 0.928)" font-size="60.6">(</text><text class="t" transform="translate(1722.99 108.1) scale(0.851 1.000)" font-size="60.6">2</text><text class="t" transform="translate(1751.17 108.1) scale(1.108 1.000)" font-size="60.6">S</text><text class="t" transform="translate(1788.76 100.63) scale(1.087 0.928)" font-size="60.6">)</text><text class="t" transform="translate(1851.89 108.1) scale(1.120 1.000)" font-size="60.6">a</text><text class="t" transform="translate(1891.64 108.1) scale(1.120 1.000)" font-size="60.6">t</text><text class="t" transform="translate(1949.64 108.1) scale(0.893 1.000)" font-size="60.6">L</text><text class="t" transform="translate(1980.72 108.1) scale(0.767 1.000)" font-size="60.6">H</text><text class="t" transform="translate(2015.22 108.1) scale(0.817 1.000)" font-size="60.6">C</text><text class="t" transform="translate(2080.78 108.1) scale(1.044 1.000)" font-size="60.6">p</text><text class="t" transform="translate(2112.26 108.1) scale(0.998 1.000)" font-size="60.6">−</text><text class="t" transform="translate(2146.51 108.1) scale(1.059 1.000)" font-size="60.6">p</text><text transform="translate(2211.96 108.1) scale(0.647 1.000)" font-size="60.6" font-weight="bold">7</text><text class="t" transform="translate(2276.82 108.1) scale(0.808 1.000)" font-size="60.6">T</text><text class="t" transform="translate(2309.74 108.1) scale(1.120 1.000)" font-size="60.6">e</text><text class="t" transform="translate(2341.7 108.1) scale(0.706 1.000)" font-size="60.6">V</text><text class="t" transform="translate(2422.02 100.63) scale(1.005 0.928)" font-size="60.6">(</text><text class="t" transform="translate(2447.68 108.1) scale(1.016 1.000)" font-size="60.6">b</text><text class="t" transform="translate(2480.56 100.63) scale(1.059 0.928)" font-size="60.6">)</text>
<path d="M1529.6 813.8H1646.2" fill="none" stroke="#FF00FF" stroke-width="7" stroke-linecap="round" stroke-linejoin="round" stroke-dasharray="29 26.6 0 26.6"/>
<text class="t" transform="translate(1677.78 832.4) scale(1.081 1.000)" font-size="54">c</text>
<text class="t" transform="translate(1707.45 832.4) scale(0.998 1.000)" font-size="54">o</text>
<text class="t" transform="translate(1739.43 832.4) scale(0.997 1.000)" font-size="54">h</text>
<text class="t" transform="translate(1768.56 832.4) scale(1.120 1.000)" font-size="54">.</text>
<text class="t" transform="translate(1798.11 832.4) scale(1.023 1.000)" font-size="54">+</text>
<text class="t" transform="translate(1834.12 832.4) scale(1.120 1.000)" font-size="54">f</text>
<text class="t" transform="translate(1859.93 832.4) scale(1.120 1.000)" font-size="54">r</text>
<text class="t" transform="translate(1890.53 832.4) scale(1.120 1.000)" font-size="54">a</text>
<text class="t" transform="translate(1921.3 832.4) scale(1.006 1.000)" font-size="54">g</text>
<text class="t" transform="translate(1950.33 832.4) scale(1.120 1.000)" font-size="54">.</text>
<path d="M1529.6 873H1646.2" fill="none" stroke="#0000FF" stroke-width="7" stroke-linecap="round" stroke-linejoin="round" stroke-dasharray="19.4 26.5 0 26.5 0 27.3"/>
<text class="t" transform="translate(1679.15 891.7) scale(0.751 1.000)" font-size="54">U</text>
<text class="t" transform="translate(1714.13 891.7) scale(1.120 1.000)" font-size="54">I</text>
<text class="t" transform="translate(1737.94 891.7) scale(0.895 1.000)" font-size="54">C</text>
<text class="t" transform="translate(1768.56 891.7) scale(1.022 1.000)" font-size="54">+</text>
<text class="t" transform="translate(1805.01 891.7) scale(1.120 1.000)" font-size="54">f</text>
<text class="t" transform="translate(1831.28 891.7) scale(1.120 1.000)" font-size="54">r</text>
<text class="t" transform="translate(1861.86 891.7) scale(1.120 1.000)" font-size="54">a</text>
<text class="t" transform="translate(1892.53 891.7) scale(1.046 1.000)" font-size="54">g</text>
<text class="t" transform="translate(1921.64 891.7) scale(1.120 1.000)" font-size="54">.</text>
<path d="M1529.6 931.3H1646.2" fill="none" stroke="#FF0000" stroke-width="7" stroke-linecap="round" stroke-linejoin="round" stroke-dasharray="23.3 41"/>
<text class="t" transform="translate(1679.48 949.9) scale(0.993 1.000)" font-size="54">h</text>
<text class="t" transform="translate(1709.16 949.9) scale(1.110 1.000)" font-size="54">a</text>
<text class="t" transform="translate(1739.62 949.9) scale(1.010 1.000)" font-size="54">d</text>
<text class="t" transform="translate(1769.08 949.9) scale(1.120 1.000)" font-size="54">.</text>
<text class="t" transform="translate(1803.1 949.9) scale(1.120 1.000)" font-size="54">s</text>
<text class="t" transform="translate(1832.17 949.9) scale(1.120 1.000)" font-size="54">c</text>
<text class="t" transform="translate(1862.06 949.9) scale(1.120 1.000)" font-size="54">a</text>
<text class="t" transform="translate(1896.98 949.9) scale(1.120 1.000)" font-size="54">t</text>
<text class="t" transform="translate(1919.73 949.9) scale(1.120 1.000)" font-size="54">.</text>
<text class="t" transform="translate(1950.14 949.9) scale(1.018 1.000)" font-size="54">+</text>
<text class="t" transform="translate(1986.41 949.9) scale(1.120 1.000)" font-size="54">f</text>
<text class="t" transform="translate(2013.53 949.9) scale(1.120 1.000)" font-size="54">r</text>
<text class="t" transform="translate(2042.08 949.9) scale(1.120 1.000)" font-size="54">a</text>
<text class="t" transform="translate(2072.68 949.9) scale(1.042 1.000)" font-size="54">g</text>
<text class="t" transform="translate(2101.65 949.9) scale(1.120 1.000)" font-size="54">.</text>
<path d="M1529.6 989.9H1646.2" fill="none" stroke="#000" stroke-width="7.2" stroke-linecap="round" stroke-linejoin="round"/>
<text class="t" transform="translate(1676.41 1008.2) scale(0.995 1.000)" font-size="54">S</text>
<text class="t" transform="translate(1705.99 1008.2) scale(0.703 1.000)" font-size="54">U</text>
<text class="t" transform="translate(1737.32 1008.2) scale(0.661 1.000)" font-size="54">M</text>
<ellipse cx="1945.3" cy="245.6" rx="10.7" ry="9.5"/>
<text class="t" transform="translate(2041.09 266.4) scale(0.820 1.000)" font-size="60.6">C</text>
<text class="t" transform="translate(2073.05 266.4) scale(0.634 1.000)" font-size="60.6">M</text>
<text class="t" transform="translate(2105.46 266.4) scale(1.027 1.000)" font-size="60.6">S</text>
<text class="t" transform="translate(2140.99 266.4) scale(1.120 1.000)" font-size="60.6">,</text>
<text class="t" transform="translate(2240.15 266.4) scale(0.937 1.000)" font-size="60.6">y</text>
<text class="t" transform="translate(2326.94 266.4) scale(0.849 1.000)" font-size="60.6">&lt;</text>
<text class="t" transform="translate(2360.09 266.4) scale(0.914 1.000)" font-size="60.6">1</text>
<text class="t" transform="translate(2390.17 266.4) scale(1.120 1.000)" font-size="60.6">.</text>
<text class="t" transform="translate(2423.32 266.4) scale(1.058 1.000)" font-size="60.6">2</text>
<text transform="translate(2273.91 281.5) scale(1.120 1.000)" font-size="40">r</text>
<path d="M2221.33 216.8V274.4 M2308.22 216.8V274.4" stroke="#000" stroke-width="2.4"/>
<text transform="translate(1905.34 1167.8) scale(1.010 1.000)" font-size="59">p</text><text transform="translate(1938.09 1183.3) scale(0.826 1.000)" font-size="40">T</text><text transform="translate(1966.41 1164.97) scale(1.150 1.018)" font-size="59">[</text><text transform="translate(1991.37 1167.8) scale(0.756 1.000)" font-size="59">G</text><text transform="translate(2025.84 1167.8) scale(1.100 1.000)" font-size="59">e</text><text transform="translate(2057.41 1167.8) scale(0.702 1.000)" font-size="59">V</text><text transform="translate(2091.07 1164.97) scale(1.150 1.018)" font-size="59">]</text>
<text transform="translate(1339.6 898.06) rotate(-90) scale(1.022 1.000)" x="-16.5" font-size="63">d</text><text transform="translate(1339.6 863.99) rotate(-90) scale(0.983 1.000)" x="-17.7" font-size="63" stroke="#000" stroke-width="0.7">σ</text><text transform="translate(1339.6 829.13) rotate(-90) scale(1.250 1.000)" x="-8.75" font-size="63">/</text><text transform="translate(1339.6 797.26) rotate(-90) scale(1.022 1.000)" x="-16.5" font-size="63">d</text><text transform="translate(1339.6 767.58) rotate(-90) scale(1.002 1.000)" x="-15.03" font-size="63">p</text><text transform="translate(1347 740.69) rotate(-90) scale(0.971 1.000)" x="-12.86" font-size="42">T</text><text transform="translate(1339.6 718.88) rotate(-90) scale(0.785 1.000)" x="-17.8" font-size="63">×</text><text transform="translate(1339.6 692.53) rotate(-90) scale(0.754 1.000)" x="-20.38" font-size="63">B</text><text transform="translate(1339.6 664.54) rotate(-90) scale(1.107 1.000)" x="-10.84" font-size="63">r</text><text transform="translate(1332.24 631.67) rotate(-90) scale(0.893 0.996)" x="-10.86" font-size="63">(</text><text transform="translate(1339.6 604.33) rotate(-90) scale(1.084 1.000)" x="-18.15" font-size="63" stroke="#000" stroke-width="0.7">μ</text><text transform="translate(1307.86 578.94) rotate(-90) scale(1.227 1.000)" x="-8.47" font-size="30">+</text><text transform="translate(1339.6 551.64) rotate(-90) scale(1.138 1.000)" x="-18.15" font-size="63" stroke="#000" stroke-width="0.7">μ</text><text transform="translate(1307.66 526.25) rotate(-90) scale(1.227 1.000)" x="-8.47" font-size="30">−</text><text transform="translate(1332.24 506.87) rotate(-90) scale(0.856 0.996)" x="-10.12" font-size="63">)</text><text transform="translate(1337.48 439) rotate(-90) scale(1.164 1.059)" x="-11.69" font-size="63">[</text><text transform="translate(1339.6 416.44) rotate(-90) scale(1.027 1.000)" x="-15.03" font-size="63">p</text><text transform="translate(1339.6 387.05) rotate(-90) scale(1.030 1.000)" x="-14.55" font-size="63">b</text><text transform="translate(1339.6 355.73) rotate(-90) scale(1.250 1.000)" x="-8.75" font-size="63">/</text><text transform="translate(1339.6 324.45) rotate(-90) scale(0.793 1.000)" x="-23.06" font-size="63">G</text><text transform="translate(1339.6 293.83) rotate(-90) scale(1.021 1.000)" x="-14.12" font-size="63">e</text><text transform="translate(1339.6 266.24) rotate(-90) scale(0.653 1.000)" x="-22.75" font-size="63">V</text><text transform="translate(1337.48 244.37) rotate(-90) scale(0.895 1.059)" x="-9.29" font-size="63">]</text>
<clipPath id="clip-c"><rect x="2788" y="24" width="1012" height="1015.6"/></clipPath>
<g clip-path="url(#clip-c)"><path d="M2788 434.8 L2851.25 508.75 L2914.5 573.23 L2977.75 629.83 L3041 680.09 L3104.25 725.27 L3167.5 766.34 L3230.75 804.05 L3294 838.98 L3357.25 871.59 L3420.5 902.24 L3483.75 931.23 L3547 958.79 L3610.25 985.11 L3673.5 1010.35 L3736.75 1034.64 L3800 1058.1" fill="none" stroke="#FF00FF" stroke-width="7" stroke-linecap="round" stroke-linejoin="round" stroke-dasharray="28.57 26.2 0 26.2" stroke-dashoffset="12.85"/><path d="M2788 276.52 L2851.25 351.51 L2914.5 415.68 L2977.75 471.46 L3041 520.69 L3104.25 564.72 L3167.5 604.54 L3230.75 640.92 L3294 674.42 L3357.25 705.5 L3420.5 734.52 L3483.75 761.76 L3547 787.46 L3610.25 811.81 L3673.5 834.97 L3736.75 857.07 L3800 878.23" fill="none" stroke="#0000FF" stroke-width="7" stroke-linecap="round" stroke-linejoin="round" stroke-dasharray="19.11 26.1 0 26.1 0 26.89" stroke-dashoffset="12.45"/><path d="M2788 96.98 L2851.25 181.19 L2914.5 249.33 L2977.75 307.5 L3041 358.77 L3104.25 404.86 L3167.5 446.85 L3230.75 485.45 L3294 521.2 L3357.25 554.46 L3420.5 585.53 L3483.75 614.66 L3547 642.04 L3610.25 667.82 L3673.5 692.16 L3736.75 715.15 L3800 736.92" fill="none" stroke="#FF0000" stroke-width="7" stroke-linecap="round" stroke-linejoin="round" stroke-dasharray="22.95 40.38" stroke-dashoffset="16.52"/><path d="M2788 95.18 L2851.25 172.92 L2914.5 238.68 L2977.75 296.15 L3041 347.36 L3104.25 393.6 L3167.5 435.76 L3230.75 474.47 L3294 510.22 L3357.25 543.38 L3420.5 574.25 L3483.75 603.09 L3547 630.1 L3610.25 655.46 L3673.5 679.32 L3736.75 701.8 L3800 723.02" fill="none" stroke="#000" stroke-width="7.2" stroke-linecap="round" stroke-linejoin="round"/><path d="M2788 128.25H2813.3M2788 120.55V135.95M2813.3 120.55V135.95M2813.3 161.98H2838.6M2813.3 154.28V169.68M2838.6 154.28V169.68M2838.6 193.35H2863.9M2838.6 185.65V201.05M2863.9 185.65V201.05M2863.9 223.71H2889.2M2863.9 216.01V231.41M2889.2 216.01V231.41M2889.2 243.94H2914.5M2889.2 236.24V251.64M2914.5 236.24V251.64M2914.5 278.35H2939.8M2914.5 270.65V286.05M2939.8 270.65V286.05M2939.8 300.27H2965.1M2939.8 292.57V307.97M2965.1 292.57V307.97M2965.1 322.2H2990.4M2965.1 314.5V329.9M2990.4 314.5V329.9M2990.4 336.37H3015.7M2990.4 328.67V344.07M3015.7 328.67V344.07M3015.7 374.48H3041M3015.7 366.78V382.18M3041 366.78V382.18M3041 393.03H3078.95M3041 385.33V400.73M3078.95 385.33V400.73M3078.95 404.84H3116.9M3078.95 397.14V412.54M3116.9 397.14V412.54M3116.9 456.11H3167.5M3116.9 448.41V463.81M3167.5 448.41V463.81M3167.5 500.29H3230.75M3167.5 492.59V507.99M3230.75 492.59V507.99M3230.75 505.35H3294M3230.75 497.65V513.05M3294 497.65V513.05M3294 574.02H3420.5M3294 566.32V581.72M3420.5 566.32V581.72M3420.5 673.24H3800M3420.5 665.54V680.94M3800 665.54V680.94" stroke="#909090" stroke-width="0.9" fill="none"/><ellipse cx="2798.49" cy="128.25" rx="11.3" ry="10.4"/><ellipse cx="2824.8" cy="161.98" rx="11.3" ry="10.4"/><ellipse cx="2850.1" cy="193.35" rx="11.3" ry="10.4"/><ellipse cx="2874.39" cy="223.71" rx="11.3" ry="10.4"/><ellipse cx="2900.69" cy="243.94" rx="11.3" ry="10.4"/><ellipse cx="2925.99" cy="278.35" rx="11.3" ry="10.4"/><ellipse cx="2951.96" cy="300.27" rx="11.3" ry="10.4"/><ellipse cx="2977.26" cy="322.2" rx="11.3" ry="10.4"/><ellipse cx="3002.56" cy="336.37" rx="11.3" ry="10.4"/><ellipse cx="3027.86" cy="374.48" rx="11.3" ry="10.4"/><ellipse cx="3058.21" cy="393.03" rx="11.3" ry="10.4"/><ellipse cx="3095.32" cy="404.84" rx="11.3" ry="10.4"/><ellipse cx="3140.85" cy="456.11" rx="11.3" ry="10.4"/><ellipse cx="3198.2" cy="500.29" rx="11.3" ry="10.4"/><ellipse cx="3260.6" cy="505.35" rx="11.3" ry="10.4"/><ellipse cx="3352.28" cy="574.02" rx="11.3" ry="10.4"/><ellipse cx="3577.47" cy="673.24" rx="11.3" ry="10.4"/></g>
<path d="M2806.07 1039.6V1031.6M2806.07 24V32M2824.14 1039.6V1031.6M2824.14 24V32M2842.21 1039.6V1031.6M2842.21 24V32M2860.29 1039.6V1031.6M2860.29 24V32M2878.36 1039.6V1031.6M2878.36 24V32M2896.43 1039.6V1031.6M2896.43 24V32M2914.5 1039.6V1024.6M2914.5 24V39M2932.57 1039.6V1031.6M2932.57 24V32M2950.64 1039.6V1031.6M2950.64 24V32M2968.71 1039.6V1031.6M2968.71 24V32M2986.79 1039.6V1031.6M2986.79 24V32M3004.86 1039.6V1031.6M3004.86 24V32M3022.93 1039.6V1031.6M3022.93 24V32M3041 1039.6V1024.6M3041 24V39M3059.07 1039.6V1031.6M3059.07 24V32M3077.14 1039.6V1031.6M3077.14 24V32M3095.21 1039.6V1031.6M3095.21 24V32M3113.29 1039.6V1031.6M3113.29 24V32M3131.36 1039.6V1031.6M3131.36 24V32M3149.43 1039.6V1031.6M3149.43 24V32M3167.5 1039.6V1024.6M3167.5 24V39M3185.57 1039.6V1031.6M3185.57 24V32M3203.64 1039.6V1031.6M3203.64 24V32M3221.71 1039.6V1031.6M3221.71 24V32M3239.79 1039.6V1031.6M3239.79 24V32M3257.86 1039.6V1031.6M3257.86 24V32M3275.93 1039.6V1031.6M3275.93 24V32M3294 1039.6V1024.6M3294 24V39M3312.07 1039.6V1031.6M3312.07 24V32M3330.14 1039.6V1031.6M3330.14 24V32M3348.21 1039.6V1031.6M3348.21 24V32M3366.29 1039.6V1031.6M3366.29 24V32M3384.36 1039.6V1031.6M3384.36 24V32M3402.43 1039.6V1031.6M3402.43 24V32M3420.5 1039.6V1024.6M3420.5 24V39M3438.57 1039.6V1031.6M3438.57 24V32M3456.64 1039.6V1031.6M3456.64 24V32M3474.71 1039.6V1031.6M3474.71 24V32M3492.79 1039.6V1031.6M3492.79 24V32M3510.86 1039.6V1031.6M3510.86 24V32M3528.93 1039.6V1031.6M3528.93 24V32M3547 1039.6V1024.6M3547 24V39M3565.07 1039.6V1031.6M3565.07 24V32M3583.14 1039.6V1031.6M3583.14 24V32M3601.21 1039.6V1031.6M3601.21 24V32M3619.29 1039.6V1031.6M3619.29 24V32M3637.36 1039.6V1031.6M3637.36 24V32M3655.43 1039.6V1031.6M3655.43 24V32M3673.5 1039.6V1024.6M3673.5 24V39M3691.57 1039.6V1031.6M3691.57 24V32M3709.64 1039.6V1031.6M3709.64 24V32M3727.71 1039.6V1031.6M3727.71 24V32M3745.79 1039.6V1031.6M3745.79 24V32M3763.86 1039.6V1031.6M3763.86 24V32M3781.93 1039.6V1031.6M3781.93 24V32M2788 1039.59H2796.5M3800 1039.59H3791.5M2788 1008.22H2796.5M3800 1008.22H3791.5M2788 985.97H2796.5M3800 985.97H3791.5M2788 968.71H2796.5M3800 968.71H3791.5M2788 954.61H2796.5M3800 954.61H3791.5M2788 942.69H2796.5M3800 942.69H3791.5M2788 932.36H2796.5M3800 932.36H3791.5M2788 923.25H2796.5M3800 923.25H3791.5M2788 915.1H2805M3800 915.1H3783M2788 861.49H2796.5M3800 861.49H3791.5M2788 830.12H2796.5M3800 830.12H3791.5M2788 807.87H2796.5M3800 807.87H3791.5M2788 790.61H2796.5M3800 790.61H3791.5M2788 776.51H2796.5M3800 776.51H3791.5M2788 764.59H2796.5M3800 764.59H3791.5M2788 754.26H2796.5M3800 754.26H3791.5M2788 745.15H2796.5M3800 745.15H3791.5M2788 737H2805M3800 737H3783M2788 683.39H2796.5M3800 683.39H3791.5M2788 652.02H2796.5M3800 652.02H3791.5M2788 629.77H2796.5M3800 629.77H3791.5M2788 612.51H2796.5M3800 612.51H3791.5M2788 598.41H2796.5M3800 598.41H3791.5M2788 586.49H2796.5M3800 586.49H3791.5M2788 576.16H2796.5M3800 576.16H3791.5M2788 567.05H2796.5M3800 567.05H3791.5M2788 558.9H2805M3800 558.9H3783M2788 505.29H2796.5M3800 505.29H3791.5M2788 473.92H2796.5M3800 473.92H3791.5M2788 451.67H2796.5M3800 451.67H3791.5M2788 434.41H2796.5M3800 434.41H3791.5M2788 420.31H2796.5M3800 420.31H3791.5M2788 408.39H2796.5M3800 408.39H3791.5M2788 398.06H2796.5M3800 398.06H3791.5M2788 388.95H2796.5M3800 388.95H3791.5M2788 380.8H2805M3800 380.8H3783M2788 327.19H2796.5M3800 327.19H3791.5M2788 295.82H2796.5M3800 295.82H3791.5M2788 273.57H2796.5M3800 273.57H3791.5M2788 256.31H2796.5M3800 256.31H3791.5M2788 242.21H2796.5M3800 242.21H3791.5M2788 230.29H2796.5M3800 230.29H3791.5M2788 219.96H2796.5M3800 219.96H3791.5M2788 210.85H2796.5M3800 210.85H3791.5M2788 202.7H2805M3800 202.7H3783M2788 149.09H2796.5M3800 149.09H3791.5M2788 117.72H2796.5M3800 117.72H3791.5M2788 95.47H2796.5M3800 95.47H3791.5M2788 78.21H2796.5M3800 78.21H3791.5M2788 64.11H2796.5M3800 64.11H3791.5M2788 52.19H2796.5M3800 52.19H3791.5M2788 41.86H2796.5M3800 41.86H3791.5M2788 32.75H2796.5M3800 32.75H3791.5M2788 24.6H2805M3800 24.6H3783" stroke="#000" stroke-width="3.6" fill="none"/><rect x="2788" y="24" width="1012" height="1015.6" fill="none" stroke="#000" stroke-width="4"/>
<text transform="translate(2755.65 1106.7) scale(1.072 1)" font-size="60">2</text><text transform="translate(2787.81 1106.7) scale(1.072 1)" font-size="60">0</text><text transform="translate(2882.03 1106.7) scale(1.072 1)" font-size="60">3</text><text transform="translate(2914.19 1106.7) scale(1.072 1)" font-size="60">0</text><text transform="translate(3009.44 1106.7) scale(1.072 1)" font-size="60">4</text><text transform="translate(3041.6 1106.7) scale(1.072 1)" font-size="60">0</text><text transform="translate(3134.7 1106.7) scale(1.072 1)" font-size="60">5</text><text transform="translate(3166.86 1106.7) scale(1.072 1)" font-size="60">0</text><text transform="translate(3261.68 1106.7) scale(1.072 1)" font-size="60">6</text><text transform="translate(3293.84 1106.7) scale(1.072 1)" font-size="60">0</text><text transform="translate(3387.44 1106.7) scale(1.072 1)" font-size="60" font-weight="bold">7</text><text transform="translate(3419.6 1106.7) scale(1.072 1)" font-size="60">0</text><text transform="translate(3514.84 1106.7) scale(1.072 1)" font-size="60">8</text><text transform="translate(3547 1106.7) scale(1.072 1)" font-size="60">0</text><text transform="translate(3641.53 1106.7) scale(1.072 1)" font-size="60">9</text><text transform="translate(3673.69 1106.7) scale(1.072 1)" font-size="60">0</text><text transform="translate(3750.16 1106.7) scale(1.072 1)" font-size="60">1</text><text transform="translate(3782.32 1106.7) scale(1.072 1)" font-size="60">0</text><text transform="translate(3814.48 1106.7) scale(1.072 1)" font-size="60">0</text><text transform="translate(2723.75 917.3) scale(1.000 1)" font-size="40.3">−4</text><text transform="translate(2660.26 940.9) scale(1.043 1)" font-size="60">10</text><text transform="translate(2724.7 739.2) scale(1.000 1)" font-size="40.3">−3</text><text transform="translate(2661.2 762.8) scale(1.043 1)" font-size="60">10</text><text transform="translate(2725.35 561.1) scale(1.000 1)" font-size="40.3">−2</text><text transform="translate(2661.85 584.7) scale(1.043 1)" font-size="60">10</text><text transform="translate(2725.54 383) scale(1.000 1)" font-size="40.3">−1</text><text transform="translate(2662.05 406.6) scale(1.043 1)" font-size="60">10</text><text transform="translate(2747.38 204.9) scale(1.000 1)" font-size="40.3">0</text><text transform="translate(2683.42 228.5) scale(1.043 1)" font-size="60">10</text><text transform="translate(2748.27 26.8) scale(1.000 1)" font-size="40.3">1</text><text transform="translate(2686.31 50.4) scale(1.043 1)" font-size="60">10</text>
<text transform="translate(2944.3 111.2) scale(1.030 1.000)" font-size="60.6" font-weight="bold">Υ</text><text class="t" transform="translate(2993.31 103.73) scale(1.087 0.928)" font-size="60.6">(</text><text class="t" transform="translate(3021.96 111.2) scale(0.825 1.000)" font-size="60.6">3</text><text class="t" transform="translate(3050.27 111.2) scale(1.108 1.000)" font-size="60.6">S</text><text class="t" transform="translate(3087.86 103.73) scale(1.087 0.928)" font-size="60.6">)</text><text class="t" transform="translate(3152.36 111.2) scale(1.120 1.000)" font-size="60.6">a</text><text class="t" transform="translate(3191.1 111.2) scale(1.120 1.000)" font-size="60.6">t</text><text class="t" transform="translate(3250.46 111.2) scale(0.884 1.000)" font-size="60.6">L</text><text class="t" transform="translate(3281.21 111.2) scale(0.759 1.000)" font-size="60.6">H</text><text class="t" transform="translate(3315.34 111.2) scale(0.808 1.000)" font-size="60.6">C</text><text class="t" transform="translate(3380.59 111.2) scale(1.037 1.000)" font-size="60.6">p</text><text class="t" transform="translate(3411.84 111.2) scale(0.991 1.000)" font-size="60.6">−</text><text class="t" transform="translate(3445.83 111.2) scale(1.051 1.000)" font-size="60.6">p</text><text transform="translate(3512.07 111.2) scale(0.674 1.000)" font-size="60.6" font-weight="bold">7</text><text class="t" transform="translate(3575.21 111.2) scale(0.814 1.000)" font-size="60.6">T</text><text class="t" transform="translate(3608.49 111.2) scale(1.120 1.000)" font-size="60.6">e</text><text class="t" transform="translate(3640.57 111.2) scale(0.711 1.000)" font-size="60.6">V</text><text class="t" transform="translate(3701.12 103.73) scale(1.005 0.928)" font-size="60.6">(</text><text class="t" transform="translate(3725.69 111.2) scale(1.120 1.000)" font-size="60.6">c</text><text class="t" transform="translate(3759.66 103.73) scale(1.059 0.928)" font-size="60.6">)</text>
<path d="M2811.5 813.8H2927.8" fill="none" stroke="#FF00FF" stroke-width="7" stroke-linecap="round" stroke-linejoin="round" stroke-dasharray="29 26.6 0 26.6"/>
<text class="t" transform="translate(2959.58 832.4) scale(1.081 1.000)" font-size="54">c</text>
<text class="t" transform="translate(2989.25 832.4) scale(0.998 1.000)" font-size="54">o</text>
<text class="t" transform="translate(3021.23 832.4) scale(0.997 1.000)" font-size="54">h</text>
<text class="t" transform="translate(3050.36 832.4) scale(1.120 1.000)" font-size="54">.</text>
<text class="t" transform="translate(3079.91 832.4) scale(1.023 1.000)" font-size="54">+</text>
<text class="t" transform="translate(3115.92 832.4) scale(1.120 1.000)" font-size="54">f</text>
<text class="t" transform="translate(3141.73 832.4) scale(1.120 1.000)" font-size="54">r</text>
<text class="t" transform="translate(3172.33 832.4) scale(1.120 1.000)" font-size="54">a</text>
<text class="t" transform="translate(3203.1 832.4) scale(1.006 1.000)" font-size="54">g</text>
<text class="t" transform="translate(3232.13 832.4) scale(1.120 1.000)" font-size="54">.</text>
<path d="M2811.5 873H2927.8" fill="none" stroke="#0000FF" stroke-width="7" stroke-linecap="round" stroke-linejoin="round" stroke-dasharray="19.4 26.5 0 26.5 0 27.3"/>
<text class="t" transform="translate(2960.95 891.7) scale(0.751 1.000)" font-size="54">U</text>
<text class="t" transform="translate(2995.93 891.7) scale(1.120 1.000)" font-size="54">I</text>
<text class="t" transform="translate(3019.74 891.7) scale(0.895 1.000)" font-size="54">C</text>
<text class="t" transform="translate(3050.36 891.7) scale(1.022 1.000)" font-size="54">+</text>
<text class="t" transform="translate(3086.81 891.7) scale(1.120 1.000)" font-size="54">f</text>
<text class="t" transform="translate(3113.08 891.7) scale(1.120 1.000)" font-size="54">r</text>
<text class="t" transform="translate(3143.66 891.7) scale(1.120 1.000)" font-size="54">a</text>
<text class="t" transform="translate(3174.33 891.7) scale(1.046 1.000)" font-size="54">g</text>
<text class="t" transform="translate(3203.44 891.7) scale(1.120 1.000)" font-size="54">.</text>
<path d="M2811.5 931.3H2927.8" fill="none" stroke="#FF0000" stroke-width="7" stroke-linecap="round" stroke-linejoin="round" stroke-dasharray="23.3 41"/>
<text class="t" transform="translate(2961.28 949.9) scale(0.993 1.000)" font-size="54">h</text>
<text class="t" transform="translate(2990.96 949.9) scale(1.110 1.000)" font-size="54">a</text>
<text class="t" transform="translate(3021.42 949.9) scale(1.010 1.000)" font-size="54">d</text>
<text class="t" transform="translate(3050.88 949.9) scale(1.120 1.000)" font-size="54">.</text>
<text class="t" transform="translate(3084.9 949.9) scale(1.120 1.000)" font-size="54">s</text>
<text class="t" transform="translate(3113.97 949.9) scale(1.120 1.000)" font-size="54">c</text>
<text class="t" transform="translate(3143.86 949.9) scale(1.120 1.000)" font-size="54">a</text>
<text class="t" transform="translate(3178.78 949.9) scale(1.120 1.000)" font-size="54">t</text>
<text class="t" transform="translate(3201.53 949.9) scale(1.120 1.000)" font-size="54">.</text>
<text class="t" transform="translate(3231.94 949.9) scale(1.018 1.000)" font-size="54">+</text>
<text class="t" transform="translate(3268.21 949.9) scale(1.120 1.000)" font-size="54">f</text>
<text class="t" transform="translate(3295.33 949.9) scale(1.120 1.000)" font-size="54">r</text>
<text class="t" transform="translate(3323.88 949.9) scale(1.120 1.000)" font-size="54">a</text>
<text class="t" transform="translate(3354.48 949.9) scale(1.042 1.000)" font-size="54">g</text>
<text class="t" transform="translate(3383.45 949.9) scale(1.120 1.000)" font-size="54">.</text>
<path d="M2811.5 989.9H2927.8" fill="none" stroke="#000" stroke-width="7.2" stroke-linecap="round" stroke-linejoin="round"/>
<text class="t" transform="translate(2958.21 1008.2) scale(0.995 1.000)" font-size="54">S</text>
<text class="t" transform="translate(2987.79 1008.2) scale(0.703 1.000)" font-size="54">U</text>
<text class="t" transform="translate(3019.12 1008.2) scale(0.661 1.000)" font-size="54">M</text>
<ellipse cx="3231.9" cy="256.4" rx="10.7" ry="9.5"/>
<text class="t" transform="translate(3328.09 277.6) scale(0.820 1.000)" font-size="60.6">C</text>
<text class="t" transform="translate(3360.05 277.6) scale(0.634 1.000)" font-size="60.6">M</text>
<text class="t" transform="translate(3392.46 277.6) scale(1.027 1.000)" font-size="60.6">S</text>
<text class="t" transform="translate(3427.99 277.6) scale(1.120 1.000)" font-size="60.6">,</text>
<text class="t" transform="translate(3527.15 277.6) scale(0.937 1.000)" font-size="60.6">y</text>
<text class="t" transform="translate(3613.94 277.6) scale(0.849 1.000)" font-size="60.6">&lt;</text>
<text class="t" transform="translate(3647.09 277.6) scale(0.914 1.000)" font-size="60.6">1</text>
<text class="t" transform="translate(3677.17 277.6) scale(1.120 1.000)" font-size="60.6">.</text>
<text class="t" transform="translate(3710.32 277.6) scale(1.058 1.000)" font-size="60.6">2</text>
<text transform="translate(3560.91 292.7) scale(1.120 1.000)" font-size="40">r</text>
<path d="M3508.33 228V285.6 M3595.22 228V285.6" stroke="#000" stroke-width="2.4"/>
<text transform="translate(3189.24 1177.9) scale(1.011 1.000)" font-size="59">p</text><text transform="translate(3222.02 1193.4) scale(0.827 1.000)" font-size="40">T</text><text transform="translate(3250.38 1175.07) scale(1.150 1.018)" font-size="59">[</text><text transform="translate(3275.35 1177.9) scale(0.757 1.000)" font-size="59">G</text><text transform="translate(3309.86 1177.9) scale(1.101 1.000)" font-size="59">e</text><text transform="translate(3341.46 1177.9) scale(0.703 1.000)" font-size="59">V</text><text transform="translate(3375.16 1175.07) scale(1.150 1.018)" font-size="59">]</text>
<text transform="translate(2627.9 873.55) rotate(-90) scale(1.022 1.000)" x="-16.5" font-size="63">d</text><text transform="translate(2627.9 839.48) rotate(-90) scale(0.983 1.000)" x="-17.7" font-size="63" stroke="#000" stroke-width="0.7">σ</text><text transform="translate(2627.9 804.61) rotate(-90) scale(1.250 1.000)" x="-8.75" font-size="63">/</text><text transform="translate(2627.9 772.73) rotate(-90) scale(1.022 1.000)" x="-16.5" font-size="63">d</text><text transform="translate(2627.9 743.04) rotate(-90) scale(1.003 1.000)" x="-15.03" font-size="63">p</text><text transform="translate(2635.3 716.14) rotate(-90) scale(0.972 1.000)" x="-12.86" font-size="42">T</text><text transform="translate(2627.9 694.32) rotate(-90) scale(0.785 1.000)" x="-17.8" font-size="63">×</text><text transform="translate(2627.9 667.97) rotate(-90) scale(0.754 1.000)" x="-20.38" font-size="63">B</text><text transform="translate(2627.9 639.97) rotate(-90) scale(1.107 1.000)" x="-10.84" font-size="63">r</text><text transform="translate(2620.54 607.09) rotate(-90) scale(0.893 0.996)" x="-10.86" font-size="63">(</text><text transform="translate(2627.9 579.74) rotate(-90) scale(1.085 1.000)" x="-18.15" font-size="63" stroke="#000" stroke-width="0.7">μ</text><text transform="translate(2596.16 554.34) rotate(-90) scale(1.228 1.000)" x="-8.47" font-size="30">+</text><text transform="translate(2627.9 527.04) rotate(-90) scale(1.138 1.000)" x="-18.15" font-size="63" stroke="#000" stroke-width="0.7">μ</text><text transform="translate(2595.96 501.63) rotate(-90) scale(1.228 1.000)" x="-8.47" font-size="30">−</text><text transform="translate(2620.54 482.25) rotate(-90) scale(0.856 0.996)" x="-10.12" font-size="63">)</text><text transform="translate(2625.78 414.36) rotate(-90) scale(1.165 1.059)" x="-11.69" font-size="63">[</text><text transform="translate(2627.9 391.79) rotate(-90) scale(1.027 1.000)" x="-15.03" font-size="63">p</text><text transform="translate(2627.9 362.4) rotate(-90) scale(1.031 1.000)" x="-14.55" font-size="63">b</text><text transform="translate(2627.9 331.06) rotate(-90) scale(1.250 1.000)" x="-8.75" font-size="63">/</text><text transform="translate(2627.9 299.78) rotate(-90) scale(0.793 1.000)" x="-23.06" font-size="63">G</text><text transform="translate(2627.9 269.14) rotate(-90) scale(1.021 1.000)" x="-14.12" font-size="63">e</text><text transform="translate(2627.9 241.55) rotate(-90) scale(0.653 1.000)" x="-22.75" font-size="63">V</text><text transform="translate(2625.78 219.68) rotate(-90) scale(0.895 1.059)" x="-9.29" font-size="63">]</text>
<clipPath id="clip-d"><rect x="215.3" y="1227" width="1012.8" height="1015"/></clipPath>
<g clip-path="url(#clip-d)"><path d="M215.3 1601.57 L278.6 1678.98 L341.9 1743.19 L405.2 1798.04 L468.5 1845.97 L531.8 1888.64 L595.1 1927.17 L658.4 1962.38 L721.7 1994.89 L785 2025.15 L848.3 2053.53 L911.6 2080.3 L974.9 2105.68 L1038.2 2129.86 L1101.5 2152.99 L1164.8 2175.19 L1228.1 2196.56" fill="none" stroke="#E8453C" stroke-width="7.8" stroke-linecap="round" stroke-linejoin="round" stroke-dasharray="0 39.5" stroke-dashoffset="9.87"/><path d="M215.3 1414.05 L278.6 1496.77 L341.9 1568.42 L405.2 1631.07 L468.5 1686.73 L531.8 1736.95 L595.1 1782.91 L658.4 1825.51 L721.7 1865.42 L785 1903.17 L848.3 1939.14 L911.6 1973.67 L974.9 2007 L1038.2 2039.32 L1101.5 2070.8 L1164.8 2101.57 L1228.1 2131.73" fill="none" stroke="#FF00FF" stroke-width="7" stroke-linecap="round" stroke-linejoin="round" stroke-dasharray="28.57 26.2 0 26.2" stroke-dashoffset="20.66"/><path d="M215.3 1436.96 L278.6 1511.56 L341.9 1573.64 L405.2 1626.69 L468.5 1672.98 L531.8 1714.02 L595.1 1750.92 L658.4 1784.45 L721.7 1815.22 L785 1843.66 L848.3 1870.14 L911.6 1894.93 L974.9 1918.26 L1038.2 1940.32 L1101.5 1961.26 L1164.8 1981.21 L1228.1 2000.26" fill="none" stroke="#0000FF" stroke-width="7" stroke-linecap="round" stroke-linejoin="round" stroke-dasharray="19.11 26.1 0 26.1 0 26.89" stroke-dashoffset="13.33"/><path d="M215.3 1285.9 L278.6 1358.19 L341.9 1418.06 L405.2 1469.11 L468.5 1513.62 L531.8 1553.16 L595.1 1588.81 L658.4 1621.33 L721.7 1651.32 L785 1679.21 L848.3 1705.33 L911.6 1729.96 L974.9 1753.3 L1038.2 1775.52 L1101.5 1796.78 L1164.8 1817.17 L1228.1 1836.81" fill="none" stroke="#FF0000" stroke-width="7" stroke-linecap="round" stroke-linejoin="round" stroke-dasharray="22.95 40.38" stroke-dashoffset="12.56"/><path d="M215.3 1272.37 L278.6 1346.81 L341.9 1407.95 L405.2 1459.94 L468.5 1505.27 L531.8 1545.53 L595.1 1581.81 L658.4 1614.88 L721.7 1645.31 L785 1673.53 L848.3 1699.87 L911.6 1724.59 L974.9 1747.91 L1038.2 1769.99 L1101.5 1790.98 L1164.8 1810.99 L1228.1 1830.13" fill="none" stroke="#000" stroke-width="7.2" stroke-linecap="round" stroke-linejoin="round"/></g>
<path d="M233.39 2242V2234M233.39 1227V1235M251.47 2242V2234M251.47 1227V1235M269.56 2242V2234M269.56 1227V1235M287.64 2242V2234M287.64 1227V1235M305.73 2242V2234M305.73 1227V1235M323.81 2242V2234M323.81 1227V1235M341.9 2242V2227M341.9 1227V1242M359.99 2242V2234M359.99 1227V1235M378.07 2242V2234M378.07 1227V1235M396.16 2242V2234M396.16 1227V1235M414.24 2242V2234M414.24 1227V1235M432.33 2242V2234M432.33 1227V1235M450.41 2242V2234M450.41 1227V1235M468.5 2242V2227M468.5 1227V1242M486.59 2242V2234M486.59 1227V1235M504.67 2242V2234M504.67 1227V1235M522.76 2242V2234M522.76 1227V1235M540.84 2242V2234M540.84 1227V1235M558.93 2242V2234M558.93 1227V1235M577.01 2242V2234M577.01 1227V1235M595.1 2242V2227M595.1 1227V1242M613.19 2242V2234M613.19 1227V1235M631.27 2242V2234M631.27 1227V1235M649.36 2242V2234M649.36 1227V1235M667.44 2242V2234M667.44 1227V1235M685.53 2242V2234M685.53 1227V1235M703.61 2242V2234M703.61 1227V1235M721.7 2242V2227M721.7 1227V1242M739.79 2242V2234M739.79 1227V1235M757.87 2242V2234M757.87 1227V1235M775.96 2242V2234M775.96 1227V1235M794.04 2242V2234M794.04 1227V1235M812.13 2242V2234M812.13 1227V1235M830.21 2242V2234M830.21 1227V1235M848.3 2242V2227M848.3 1227V1242M866.39 2242V2234M866.39 1227V1235M884.47 2242V2234M884.47 1227V1235M902.56 2242V2234M902.56 1227V1235M920.64 2242V2234M920.64 1227V1235M938.73 2242V2234M938.73 1227V1235M956.81 2242V2234M956.81 1227V1235M974.9 2242V2227M974.9 1227V1242M992.99 2242V2234M992.99 1227V1235M1011.07 2242V2234M1011.07 1227V1235M1029.16 2242V2234M1029.16 1227V1235M1047.24 2242V2234M1047.24 1227V1235M1065.33 2242V2234M1065.33 1227V1235M1083.41 2242V2234M1083.41 1227V1235M1101.5 2242V2227M1101.5 1227V1242M1119.59 2242V2234M1119.59 1227V1235M1137.67 2242V2234M1137.67 1227V1235M1155.76 2242V2234M1155.76 1227V1235M1173.84 2242V2234M1173.84 1227V1235M1191.93 2242V2234M1191.93 1227V1235M1210.01 2242V2234M1210.01 1227V1235M215.3 2198.42H223.8M1228.1 2198.42H1219.6M215.3 2172.87H223.8M1228.1 2172.87H1219.6M215.3 2154.74H223.8M1228.1 2154.74H1219.6M215.3 2140.68H223.8M1228.1 2140.68H1219.6M215.3 2129.19H223.8M1228.1 2129.19H1219.6M215.3 2119.48H223.8M1228.1 2119.48H1219.6M215.3 2111.06H223.8M1228.1 2111.06H1219.6M215.3 2103.64H223.8M1228.1 2103.64H1219.6M215.3 2097H232.3M1228.1 2097H1211.1M215.3 2053.32H223.8M1228.1 2053.32H1219.6M215.3 2027.77H223.8M1228.1 2027.77H1219.6M215.3 2009.64H223.8M1228.1 2009.64H1219.6M215.3 1995.58H223.8M1228.1 1995.58H1219.6M215.3 1984.09H223.8M1228.1 1984.09H1219.6M215.3 1974.38H223.8M1228.1 1974.38H1219.6M215.3 1965.96H223.8M1228.1 1965.96H1219.6M215.3 1958.54H223.8M1228.1 1958.54H1219.6M215.3 1951.9H232.3M1228.1 1951.9H1211.1M215.3 1908.22H223.8M1228.1 1908.22H1219.6M215.3 1882.67H223.8M1228.1 1882.67H1219.6M215.3 1864.54H223.8M1228.1 1864.54H1219.6M215.3 1850.48H223.8M1228.1 1850.48H1219.6M215.3 1838.99H223.8M1228.1 1838.99H1219.6M215.3 1829.28H223.8M1228.1 1829.28H1219.6M215.3 1820.86H223.8M1228.1 1820.86H1219.6M215.3 1813.44H223.8M1228.1 1813.44H1219.6M215.3 1806.8H232.3M1228.1 1806.8H1211.1M215.3 1763.12H223.8M1228.1 1763.12H1219.6M215.3 1737.57H223.8M1228.1 1737.57H1219.6M215.3 1719.44H223.8M1228.1 1719.44H1219.6M215.3 1705.38H223.8M1228.1 1705.38H1219.6M215.3 1693.89H223.8M1228.1 1693.89H1219.6M215.3 1684.18H223.8M1228.1 1684.18H1219.6M215.3 1675.76H223.8M1228.1 1675.76H1219.6M215.3 1668.34H223.8M1228.1 1668.34H1219.6M215.3 1661.7H232.3M1228.1 1661.7H1211.1M215.3 1618.02H223.8M1228.1 1618.02H1219.6M215.3 1592.47H223.8M1228.1 1592.47H1219.6M215.3 1574.34H223.8M1228.1 1574.34H1219.6M215.3 1560.28H223.8M1228.1 1560.28H1219.6M215.3 1548.79H223.8M1228.1 1548.79H1219.6M215.3 1539.08H223.8M1228.1 1539.08H1219.6M215.3 1530.66H223.8M1228.1 1530.66H1219.6M215.3 1523.24H223.8M1228.1 1523.24H1219.6M215.3 1516.6H232.3M1228.1 1516.6H1211.1M215.3 1472.92H223.8M1228.1 1472.92H1219.6M215.3 1447.37H223.8M1228.1 1447.37H1219.6M215.3 1429.24H223.8M1228.1 1429.24H1219.6M215.3 1415.18H223.8M1228.1 1415.18H1219.6M215.3 1403.69H223.8M1228.1 1403.69H1219.6M215.3 1393.98H223.8M1228.1 1393.98H1219.6M215.3 1385.56H223.8M1228.1 1385.56H1219.6M215.3 1378.14H223.8M1228.1 1378.14H1219.6M215.3 1371.5H232.3M1228.1 1371.5H1211.1M215.3 1327.82H223.8M1228.1 1327.82H1219.6M215.3 1302.27H223.8M1228.1 1302.27H1219.6M215.3 1284.14H223.8M1228.1 1284.14H1219.6M215.3 1270.08H223.8M1228.1 1270.08H1219.6M215.3 1258.59H223.8M1228.1 1258.59H1219.6M215.3 1248.88H223.8M1228.1 1248.88H1219.6M215.3 1240.46H223.8M1228.1 1240.46H1219.6M215.3 1233.04H223.8M1228.1 1233.04H1219.6" stroke="#000" stroke-width="3.6" fill="none"/><rect x="215.3" y="1227" width="1012.8" height="1015" fill="none" stroke="#000" stroke-width="4"/>
<text transform="translate(182.95 2309) scale(1.072 1)" font-size="60">2</text><text transform="translate(215.11 2309) scale(1.072 1)" font-size="60">0</text><text transform="translate(309.43 2309) scale(1.072 1)" font-size="60">3</text><text transform="translate(341.59 2309) scale(1.072 1)" font-size="60">0</text><text transform="translate(436.94 2309) scale(1.072 1)" font-size="60">4</text><text transform="translate(469.1 2309) scale(1.072 1)" font-size="60">0</text><text transform="translate(562.3 2309) scale(1.072 1)" font-size="60">5</text><text transform="translate(594.46 2309) scale(1.072 1)" font-size="60">0</text><text transform="translate(689.38 2309) scale(1.072 1)" font-size="60">6</text><text transform="translate(721.54 2309) scale(1.072 1)" font-size="60">0</text><text transform="translate(815.24 2309) scale(1.072 1)" font-size="60" font-weight="bold">7</text><text transform="translate(847.4 2309) scale(1.072 1)" font-size="60">0</text><text transform="translate(942.74 2309) scale(1.072 1)" font-size="60">8</text><text transform="translate(974.9 2309) scale(1.072 1)" font-size="60">0</text><text transform="translate(1069.53 2309) scale(1.072 1)" font-size="60">9</text><text transform="translate(1101.69 2309) scale(1.072 1)" font-size="60">0</text><text transform="translate(1178.26 2309) scale(1.072 1)" font-size="60">1</text><text transform="translate(1210.42 2309) scale(1.072 1)" font-size="60">0</text><text transform="translate(1242.58 2309) scale(1.072 1)" font-size="60">0</text><text transform="translate(152 2244.3) scale(1.000 1)" font-size="40.3">−5</text><text transform="translate(88.5 2267.9) scale(1.043 1)" font-size="60">10</text><text transform="translate(151.05 2099.2) scale(1.000 1)" font-size="40.3">−4</text><text transform="translate(87.56 2122.8) scale(1.043 1)" font-size="60">10</text><text transform="translate(152 1954.1) scale(1.000 1)" font-size="40.3">−3</text><text transform="translate(88.5 1977.7) scale(1.043 1)" font-size="60">10</text><text transform="translate(152.65 1809) scale(1.000 1)" font-size="40.3">−2</text><text transform="translate(89.15 1832.6) scale(1.043 1)" font-size="60">10</text><text transform="translate(152.84 1663.9) scale(1.000 1)" font-size="40.3">−1</text><text transform="translate(89.35 1687.5) scale(1.043 1)" font-size="60">10</text><text transform="translate(174.68 1518.8) scale(1.000 1)" font-size="40.3">0</text><text transform="translate(110.72 1542.4) scale(1.043 1)" font-size="60">10</text><text transform="translate(175.57 1373.7) scale(1.000 1)" font-size="40.3">1</text><text transform="translate(113.61 1397.3) scale(1.043 1)" font-size="60">10</text><text transform="translate(175.37 1228.6) scale(1.000 1)" font-size="40.3">2</text><text transform="translate(111.64 1252.2) scale(1.043 1)" font-size="60">10</text>
<text transform="translate(597.9 1308.6) scale(1.035 1.000)" font-size="60.6" font-weight="bold">Υ</text><text class="t" transform="translate(652.44 1301.13) scale(1.037 0.928)" font-size="60.6">(</text><text class="t" transform="translate(677.14 1308.6) scale(0.924 1.000)" font-size="60.6">1</text><text class="t" transform="translate(706.78 1308.6) scale(1.057 1.000)" font-size="60.6">S</text><text class="t" transform="translate(742.64 1301.13) scale(1.037 0.928)" font-size="60.6">)</text><text class="t" transform="translate(806.58 1308.6) scale(1.120 1.000)" font-size="60.6">a</text><text class="t" transform="translate(845.38 1308.6) scale(1.120 1.000)" font-size="60.6">t</text><text class="t" transform="translate(904.45 1308.6) scale(0.886 1.000)" font-size="60.6">L</text><text class="t" transform="translate(935.31 1308.6) scale(0.761 1.000)" font-size="60.6">H</text><text class="t" transform="translate(969.55 1308.6) scale(0.811 1.000)" font-size="60.6">C</text><text class="t" transform="translate(1113.29 1298.03) scale(0.944 0.928)" font-size="60.6">(</text><text class="t" transform="translate(1135.25 1305.5) scale(0.976 1.000)" font-size="60.6">d</text><text class="t" transform="translate(1168.28 1298.03) scale(0.994 0.928)" font-size="60.6">)</text><text class="t" transform="translate(598.14 1378) scale(0.948 1.000)" font-size="60.6">P</text><text class="t" transform="translate(632.21 1378) scale(1.000 1.000)" font-size="60.6">b</text><text class="t" transform="translate(661.61 1378) scale(0.993 1.000)" font-size="60.6">−</text><text class="t" transform="translate(695.35 1378) scale(0.948 1.000)" font-size="60.6">P</text><text class="t" transform="translate(729.41 1378) scale(1.000 1.000)" font-size="60.6">b</text><text class="t" transform="translate(794.24 1378) scale(1.000 1.000)" font-size="60.6">2</text><text class="t" transform="translate(834.74 1378) scale(1.000 1.000)" font-size="60.6">.</text><text transform="translate(859.95 1378) scale(0.968 1.000)" font-size="60.6" font-weight="bold">7</text><text class="t" transform="translate(893.3 1378) scale(1.000 1.000)" font-size="60.6">6</text><text class="t" transform="translate(957.82 1378) scale(0.802 1.000)" font-size="60.6">T</text><text class="t" transform="translate(990.39 1378) scale(1.120 1.000)" font-size="60.6">e</text><text class="t" transform="translate(1022.22 1378) scale(0.700 1.000)" font-size="60.6">V</text>
<path d="M245.3 1967.3H358.5" fill="none" stroke="#FF00FF" stroke-width="7" stroke-linecap="round" stroke-linejoin="round" stroke-dasharray="29 26.6 0 26.6"/>
<text class="t" transform="translate(389.66 1985.3) scale(1.042 1.000)" font-size="54">c</text>
<text class="t" transform="translate(418.27 1985.3) scale(0.962 1.000)" font-size="54">o</text>
<text class="t" transform="translate(449.1 1985.3) scale(0.962 1.000)" font-size="54">h</text>
<text class="t" transform="translate(476.91 1985.3) scale(1.120 1.000)" font-size="54">.</text>
<text class="t" transform="translate(505.68 1985.3) scale(0.986 1.000)" font-size="54">+</text>
<text class="t" transform="translate(540 1985.3) scale(1.120 1.000)" font-size="54">f</text>
<text class="t" transform="translate(564.93 1985.3) scale(1.117 1.000)" font-size="54">r</text>
<text class="t" transform="translate(594.29 1985.3) scale(1.118 1.000)" font-size="54">a</text>
<text class="t" transform="translate(624.45 1985.3) scale(0.970 1.000)" font-size="54">g</text>
<text class="t" transform="translate(652.17 1985.3) scale(1.120 1.000)" font-size="54">.</text>
<path d="M245.3 2024.9H358.5" fill="none" stroke="#E8453C" stroke-width="7.8" stroke-linecap="round" stroke-linejoin="round" stroke-dasharray="0 40.1"/>
<text class="t" transform="translate(390.12 2042.9) scale(0.760 1.000)" font-size="54">O</text>
<text class="t" transform="translate(423.85 2042.9) scale(1.120 1.000)" font-size="54">I</text>
<text class="t" transform="translate(447.01 2042.9) scale(0.853 1.000)" font-size="54">C</text>
<text class="t" transform="translate(476.19 2042.9) scale(0.974 1.000)" font-size="54">+</text>
<text class="t" transform="translate(510.41 2042.9) scale(1.120 1.000)" font-size="54">f</text>
<text class="t" transform="translate(535.63 2042.9) scale(1.104 1.000)" font-size="54">r</text>
<text class="t" transform="translate(564.44 2042.9) scale(1.120 1.000)" font-size="54">a</text>
<text class="t" transform="translate(594.33 2042.9) scale(0.996 1.000)" font-size="54">g</text>
<text class="t" transform="translate(621.71 2042.9) scale(1.120 1.000)" font-size="54">.</text>
<path d="M245.3 2082.5H358.5" fill="none" stroke="#0000FF" stroke-width="7" stroke-linecap="round" stroke-linejoin="round" stroke-dasharray="19.4 26.5 0 26.5 0 27.3"/>
<text class="t" transform="translate(390.99 2100.4) scale(0.716 1.000)" font-size="54">U</text>
<text class="t" transform="translate(423.85 2100.4) scale(1.120 1.000)" font-size="54">I</text>
<text class="t" transform="translate(447.01 2100.4) scale(0.853 1.000)" font-size="54">C</text>
<text class="t" transform="translate(476.19 2100.4) scale(0.974 1.000)" font-size="54">+</text>
<text class="t" transform="translate(510.41 2100.4) scale(1.120 1.000)" font-size="54">f</text>
<text class="t" transform="translate(535.63 2100.4) scale(1.104 1.000)" font-size="54">r</text>
<text class="t" transform="translate(564.44 2100.4) scale(1.120 1.000)" font-size="54">a</text>
<text class="t" transform="translate(594.33 2100.4) scale(0.996 1.000)" font-size="54">g</text>
<text class="t" transform="translate(621.71 2100.4) scale(1.120 1.000)" font-size="54">.</text>
<path d="M245.3 2140H358.5" fill="none" stroke="#FF0000" stroke-width="7" stroke-linecap="round" stroke-linejoin="round" stroke-dasharray="23.3 41"/>
<text class="t" transform="translate(391.29 2158) scale(0.959 1.000)" font-size="54">h</text>
<text class="t" transform="translate(419.95 2158) scale(1.072 1.000)" font-size="54">a</text>
<text class="t" transform="translate(449.35 2158) scale(0.975 1.000)" font-size="54">d</text>
<text class="t" transform="translate(477.54 2158) scale(1.120 1.000)" font-size="54">.</text>
<text class="t" transform="translate(510.22 2158) scale(1.120 1.000)" font-size="54">s</text>
<text class="t" transform="translate(538.66 2158) scale(1.084 1.000)" font-size="54">c</text>
<text class="t" transform="translate(567.13 2158) scale(1.115 1.000)" font-size="54">a</text>
<text class="t" transform="translate(600.97 2158) scale(1.120 1.000)" font-size="54">t</text>
<text class="t" transform="translate(622.97 2158) scale(1.120 1.000)" font-size="54">.</text>
<text class="t" transform="translate(652.58 2158) scale(0.983 1.000)" font-size="54">+</text>
<text class="t" transform="translate(687.21 2158) scale(1.120 1.000)" font-size="54">f</text>
<text class="t" transform="translate(713.41 2158) scale(1.120 1.000)" font-size="54">r</text>
<text class="t" transform="translate(740.91 2158) scale(1.115 1.000)" font-size="54">a</text>
<text class="t" transform="translate(770.88 2158) scale(1.005 1.000)" font-size="54">g</text>
<text class="t" transform="translate(798.58 2158) scale(1.120 1.000)" font-size="54">.</text>
<path d="M245.3 2197.6H358.5" fill="none" stroke="#000" stroke-width="7.2" stroke-linecap="round" stroke-linejoin="round"/>
<text class="t" transform="translate(388.34 2215.6) scale(0.958 1.000)" font-size="54">S</text>
<text class="t" transform="translate(416.81 2215.6) scale(0.677 1.000)" font-size="54">U</text>
<text class="t" transform="translate(446.97 2215.6) scale(0.636 1.000)" font-size="54">M</text>
<text transform="translate(606.64 2372.2) scale(1.010 1.000)" font-size="59">p</text><text transform="translate(639.39 2387.7) scale(0.826 1.000)" font-size="40">T</text><text transform="translate(667.71 2369.37) scale(1.150 1.018)" font-size="59">[</text><text transform="translate(692.67 2372.2) scale(0.756 1.000)" font-size="59">G</text><text transform="translate(727.14 2372.2) scale(1.100 1.000)" font-size="59">e</text><text transform="translate(758.71 2372.2) scale(0.702 1.000)" font-size="59">V</text><text transform="translate(792.37 2369.37) scale(1.150 1.018)" font-size="59">]</text>
<text transform="translate(56.9 2010.75) rotate(-90) scale(1.022 1.000)" x="-16.5" font-size="63">d</text><text transform="translate(56.9 1976.68) rotate(-90) scale(0.983 1.000)" x="-17.7" font-size="63" stroke="#000" stroke-width="0.7">σ</text><text transform="translate(56.9 1941.81) rotate(-90) scale(1.250 1.000)" x="-8.75" font-size="63">/</text><text transform="translate(56.9 1909.93) rotate(-90) scale(1.022 1.000)" x="-16.5" font-size="63">d</text><text transform="translate(56.9 1880.24) rotate(-90) scale(1.003 1.000)" x="-15.03" font-size="63">p</text><text transform="translate(64.3 1853.34) rotate(-90) scale(0.972 1.000)" x="-12.86" font-size="42">T</text><text transform="translate(56.9 1831.52) rotate(-90) scale(0.785 1.000)" x="-17.8" font-size="63">×</text><text transform="translate(56.9 1805.17) rotate(-90) scale(0.754 1.000)" x="-20.38" font-size="63">B</text><text transform="translate(56.9 1777.17) rotate(-90) scale(1.107 1.000)" x="-10.84" font-size="63">r</text><text transform="translate(49.54 1744.29) rotate(-90) scale(0.893 0.996)" x="-10.86" font-size="63">(</text><text transform="translate(56.9 1716.94) rotate(-90) scale(1.085 1.000)" x="-18.15" font-size="63" stroke="#000" stroke-width="0.7">μ</text><text transform="translate(25.16 1691.54) rotate(-90) scale(1.228 1.000)" x="-8.47" font-size="30">+</text><text transform="translate(56.9 1664.24) rotate(-90) scale(1.138 1.000)" x="-18.15" font-size="63" stroke="#000" stroke-width="0.7">μ</text><text transform="translate(24.96 1638.83) rotate(-90) scale(1.228 1.000)" x="-8.47" font-size="30">−</text><text transform="translate(49.54 1619.45) rotate(-90) scale(0.856 0.996)" x="-10.12" font-size="63">)</text><text transform="translate(54.78 1551.56) rotate(-90) scale(1.165 1.059)" x="-11.69" font-size="63">[</text><text transform="translate(56.9 1528.99) rotate(-90) scale(0.989 1.000)" x="-16" font-size="63">n</text><text transform="translate(56.9 1499.6) rotate(-90) scale(1.031 1.000)" x="-14.55" font-size="63">b</text><text transform="translate(56.9 1468.26) rotate(-90) scale(1.250 1.000)" x="-8.75" font-size="63">/</text><text transform="translate(56.9 1436.98) rotate(-90) scale(0.793 1.000)" x="-23.06" font-size="63">G</text><text transform="translate(56.9 1406.34) rotate(-90) scale(1.021 1.000)" x="-14.12" font-size="63">e</text><text transform="translate(56.9 1378.75) rotate(-90) scale(0.653 1.000)" x="-22.75" font-size="63">V</text><text transform="translate(54.78 1356.88) rotate(-90) scale(0.895 1.059)" x="-9.29" font-size="63">]</text>
<clipPath id="clip-e"><rect x="1501.2" y="1227" width="1012.1" height="1015"/></clipPath>
<g clip-path="url(#clip-e)"><path d="M1501.2 1600.14 L1564.46 1673.39 L1627.71 1733 L1690.97 1783.68 L1754.23 1828.05 L1817.48 1867.73 L1880.74 1903.76 L1943.99 1936.87 L2007.25 1967.57 L2070.51 1996.27 L2133.76 2023.25 L2197.02 2048.75 L2260.28 2072.95 L2323.53 2096.02 L2386.79 2118.06 L2450.04 2139.19 L2513.3 2159.5" fill="none" stroke="#E8453C" stroke-width="7.8" stroke-linecap="round" stroke-linejoin="round" stroke-dasharray="0 39.5" stroke-dashoffset="0.75"/><path d="M1501.2 1440.63 L1564.46 1521.24 L1627.71 1588.65 L1690.97 1646.1 L1754.23 1696.2 L1817.48 1740.83 L1880.74 1781.38 L1943.99 1818.83 L2007.25 1853.92 L2070.51 1887.19 L2133.76 1919.06 L2197.02 1949.83 L2260.28 1979.75 L2323.53 2009.01 L2386.79 2037.75 L2450.04 2066.08 L2513.3 2094.11" fill="none" stroke="#FF00FF" stroke-width="7" stroke-linecap="round" stroke-linejoin="round" stroke-dasharray="28.57 26.2 0 26.2" stroke-dashoffset="14.22"/><path d="M1501.2 1429.7 L1564.46 1496.97 L1627.71 1554.35 L1690.97 1603.94 L1754.23 1647.44 L1817.48 1686.13 L1880.74 1720.96 L1943.99 1752.67 L2007.25 1781.81 L2070.51 1808.81 L2133.76 1834.02 L2197.02 1857.71 L2260.28 1880.1 L2323.53 1901.36 L2386.79 1921.64 L2450.04 1941.06 L2513.3 1959.74" fill="none" stroke="#0000FF" stroke-width="7" stroke-linecap="round" stroke-linejoin="round" stroke-dasharray="19.11 26.1 0 26.1 0 26.89" stroke-dashoffset="8.67"/><path d="M1501.2 1248.57 L1564.46 1323.22 L1627.71 1382.27 L1690.97 1431.95 L1754.23 1475.37 L1817.48 1514.23 L1880.74 1549.59 L1943.99 1582.14 L2007.25 1612.36 L2070.51 1640.59 L2133.76 1667.1 L2197.02 1692.08 L2260.28 1715.71 L2323.53 1738.11 L2386.79 1759.4 L2450.04 1779.66 L2513.3 1799" fill="none" stroke="#FF0000" stroke-width="7" stroke-linecap="round" stroke-linejoin="round" stroke-dasharray="22.95 40.38" stroke-dashoffset="8.38"/><path d="M1501.2 1243.57 L1564.46 1318.22 L1627.71 1377.27 L1690.97 1426.95 L1754.23 1470.37 L1817.48 1509.23 L1880.74 1544.59 L1943.99 1577.14 L2007.25 1607.36 L2070.51 1635.59 L2133.76 1662.1 L2197.02 1687.08 L2260.28 1710.71 L2323.53 1733.11 L2386.79 1754.4 L2450.04 1774.66 L2513.3 1794" fill="none" stroke="#000" stroke-width="7.2" stroke-linecap="round" stroke-linejoin="round"/></g>
<path d="M1519.27 2242V2234M1519.27 1227V1235M1537.35 2242V2234M1537.35 1227V1235M1555.42 2242V2234M1555.42 1227V1235M1573.49 2242V2234M1573.49 1227V1235M1591.57 2242V2234M1591.57 1227V1235M1609.64 2242V2234M1609.64 1227V1235M1627.71 2242V2227M1627.71 1227V1242M1645.79 2242V2234M1645.79 1227V1235M1663.86 2242V2234M1663.86 1227V1235M1681.93 2242V2234M1681.93 1227V1235M1700.01 2242V2234M1700.01 1227V1235M1718.08 2242V2234M1718.08 1227V1235M1736.15 2242V2234M1736.15 1227V1235M1754.23 2242V2227M1754.23 1227V1242M1772.3 2242V2234M1772.3 1227V1235M1790.37 2242V2234M1790.37 1227V1235M1808.44 2242V2234M1808.44 1227V1235M1826.52 2242V2234M1826.52 1227V1235M1844.59 2242V2234M1844.59 1227V1235M1862.66 2242V2234M1862.66 1227V1235M1880.74 2242V2227M1880.74 1227V1242M1898.81 2242V2234M1898.81 1227V1235M1916.88 2242V2234M1916.88 1227V1235M1934.96 2242V2234M1934.96 1227V1235M1953.03 2242V2234M1953.03 1227V1235M1971.1 2242V2234M1971.1 1227V1235M1989.18 2242V2234M1989.18 1227V1235M2007.25 2242V2227M2007.25 1227V1242M2025.32 2242V2234M2025.32 1227V1235M2043.4 2242V2234M2043.4 1227V1235M2061.47 2242V2234M2061.47 1227V1235M2079.54 2242V2234M2079.54 1227V1235M2097.62 2242V2234M2097.62 1227V1235M2115.69 2242V2234M2115.69 1227V1235M2133.76 2242V2227M2133.76 1227V1242M2151.84 2242V2234M2151.84 1227V1235M2169.91 2242V2234M2169.91 1227V1235M2187.98 2242V2234M2187.98 1227V1235M2206.06 2242V2234M2206.06 1227V1235M2224.13 2242V2234M2224.13 1227V1235M2242.2 2242V2234M2242.2 1227V1235M2260.28 2242V2227M2260.28 1227V1242M2278.35 2242V2234M2278.35 1227V1235M2296.42 2242V2234M2296.42 1227V1235M2314.49 2242V2234M2314.49 1227V1235M2332.57 2242V2234M2332.57 1227V1235M2350.64 2242V2234M2350.64 1227V1235M2368.71 2242V2234M2368.71 1227V1235M2386.79 2242V2227M2386.79 1227V1242M2404.86 2242V2234M2404.86 1227V1235M2422.93 2242V2234M2422.93 1227V1235M2441.01 2242V2234M2441.01 1227V1235M2459.08 2242V2234M2459.08 1227V1235M2477.15 2242V2234M2477.15 1227V1235M2495.23 2242V2234M2495.23 1227V1235M1501.2 2241.82H1509.7M2513.3 2241.82H2504.8M1501.2 2216.27H1509.7M2513.3 2216.27H2504.8M1501.2 2198.14H1509.7M2513.3 2198.14H2504.8M1501.2 2184.08H1509.7M2513.3 2184.08H2504.8M1501.2 2172.59H1509.7M2513.3 2172.59H2504.8M1501.2 2162.88H1509.7M2513.3 2162.88H2504.8M1501.2 2154.46H1509.7M2513.3 2154.46H2504.8M1501.2 2147.04H1509.7M2513.3 2147.04H2504.8M1501.2 2140.4H1518.2M2513.3 2140.4H2496.3M1501.2 2096.72H1509.7M2513.3 2096.72H2504.8M1501.2 2071.17H1509.7M2513.3 2071.17H2504.8M1501.2 2053.04H1509.7M2513.3 2053.04H2504.8M1501.2 2038.98H1509.7M2513.3 2038.98H2504.8M1501.2 2027.49H1509.7M2513.3 2027.49H2504.8M1501.2 2017.78H1509.7M2513.3 2017.78H2504.8M1501.2 2009.36H1509.7M2513.3 2009.36H2504.8M1501.2 2001.94H1509.7M2513.3 2001.94H2504.8M1501.2 1995.3H1518.2M2513.3 1995.3H2496.3M1501.2 1951.62H1509.7M2513.3 1951.62H2504.8M1501.2 1926.07H1509.7M2513.3 1926.07H2504.8M1501.2 1907.94H1509.7M2513.3 1907.94H2504.8M1501.2 1893.88H1509.7M2513.3 1893.88H2504.8M1501.2 1882.39H1509.7M2513.3 1882.39H2504.8M1501.2 1872.68H1509.7M2513.3 1872.68H2504.8M1501.2 1864.26H1509.7M2513.3 1864.26H2504.8M1501.2 1856.84H1509.7M2513.3 1856.84H2504.8M1501.2 1850.2H1518.2M2513.3 1850.2H2496.3M1501.2 1806.52H1509.7M2513.3 1806.52H2504.8M1501.2 1780.97H1509.7M2513.3 1780.97H2504.8M1501.2 1762.84H1509.7M2513.3 1762.84H2504.8M1501.2 1748.78H1509.7M2513.3 1748.78H2504.8M1501.2 1737.29H1509.7M2513.3 1737.29H2504.8M1501.2 1727.58H1509.7M2513.3 1727.58H2504.8M1501.2 1719.16H1509.7M2513.3 1719.16H2504.8M1501.2 1711.74H1509.7M2513.3 1711.74H2504.8M1501.2 1705.1H1518.2M2513.3 1705.1H2496.3M1501.2 1661.42H1509.7M2513.3 1661.42H2504.8M1501.2 1635.87H1509.7M2513.3 1635.87H2504.8M1501.2 1617.74H1509.7M2513.3 1617.74H2504.8M1501.2 1603.68H1509.7M2513.3 1603.68H2504.8M1501.2 1592.19H1509.7M2513.3 1592.19H2504.8M1501.2 1582.48H1509.7M2513.3 1582.48H2504.8M1501.2 1574.06H1509.7M2513.3 1574.06H2504.8M1501.2 1566.64H1509.7M2513.3 1566.64H2504.8M1501.2 1560H1518.2M2513.3 1560H2496.3M1501.2 1516.32H1509.7M2513.3 1516.32H2504.8M1501.2 1490.77H1509.7M2513.3 1490.77H2504.8M1501.2 1472.64H1509.7M2513.3 1472.64H2504.8M1501.2 1458.58H1509.7M2513.3 1458.58H2504.8M1501.2 1447.09H1509.7M2513.3 1447.09H2504.8M1501.2 1437.38H1509.7M2513.3 1437.38H2504.8M1501.2 1428.96H1509.7M2513.3 1428.96H2504.8M1501.2 1421.54H1509.7M2513.3 1421.54H2504.8M1501.2 1414.9H1518.2M2513.3 1414.9H2496.3M1501.2 1371.22H1509.7M2513.3 1371.22H2504.8M1501.2 1345.67H1509.7M2513.3 1345.67H2504.8M1501.2 1327.54H1509.7M2513.3 1327.54H2504.8M1501.2 1313.48H1509.7M2513.3 1313.48H2504.8M1501.2 1301.99H1509.7M2513.3 1301.99H2504.8M1501.2 1292.28H1509.7M2513.3 1292.28H2504.8M1501.2 1283.86H1509.7M2513.3 1283.86H2504.8M1501.2 1276.44H1509.7M2513.3 1276.44H2504.8M1501.2 1269.8H1518.2M2513.3 1269.8H2496.3" stroke="#000" stroke-width="3.6" fill="none"/><rect x="1501.2" y="1227" width="1012.1" height="1015" fill="none" stroke="#000" stroke-width="4"/>
<text transform="translate(1468.85 2309) scale(1.072 1)" font-size="60">2</text><text transform="translate(1501.01 2309) scale(1.072 1)" font-size="60">0</text><text transform="translate(1595.24 2309) scale(1.072 1)" font-size="60">3</text><text transform="translate(1627.4 2309) scale(1.072 1)" font-size="60">0</text><text transform="translate(1722.66 2309) scale(1.072 1)" font-size="60">4</text><text transform="translate(1754.82 2309) scale(1.072 1)" font-size="60">0</text><text transform="translate(1847.93 2309) scale(1.072 1)" font-size="60">5</text><text transform="translate(1880.09 2309) scale(1.072 1)" font-size="60">0</text><text transform="translate(1974.93 2309) scale(1.072 1)" font-size="60">6</text><text transform="translate(2007.09 2309) scale(1.072 1)" font-size="60">0</text><text transform="translate(2100.71 2309) scale(1.072 1)" font-size="60" font-weight="bold">7</text><text transform="translate(2132.87 2309) scale(1.072 1)" font-size="60">0</text><text transform="translate(2228.12 2309) scale(1.072 1)" font-size="60">8</text><text transform="translate(2260.28 2309) scale(1.072 1)" font-size="60">0</text><text transform="translate(2354.82 2309) scale(1.072 1)" font-size="60">9</text><text transform="translate(2386.98 2309) scale(1.072 1)" font-size="60">0</text><text transform="translate(2463.46 2309) scale(1.072 1)" font-size="60">1</text><text transform="translate(2495.62 2309) scale(1.072 1)" font-size="60">0</text><text transform="translate(2527.78 2309) scale(1.072 1)" font-size="60">0</text><text transform="translate(1437.9 2142.6) scale(1.000 1)" font-size="40.3">−5</text><text transform="translate(1374.4 2166.2) scale(1.043 1)" font-size="60">10</text><text transform="translate(1436.95 1997.5) scale(1.000 1)" font-size="40.3">−4</text><text transform="translate(1373.46 2021.1) scale(1.043 1)" font-size="60">10</text><text transform="translate(1437.9 1852.4) scale(1.000 1)" font-size="40.3">−3</text><text transform="translate(1374.4 1876) scale(1.043 1)" font-size="60">10</text><text transform="translate(1438.55 1707.3) scale(1.000 1)" font-size="40.3">−2</text><text transform="translate(1375.05 1730.9) scale(1.043 1)" font-size="60">10</text><text transform="translate(1438.74 1562.2) scale(1.000 1)" font-size="40.3">−1</text><text transform="translate(1375.25 1585.8) scale(1.043 1)" font-size="60">10</text><text transform="translate(1460.58 1417.1) scale(1.000 1)" font-size="40.3">0</text><text transform="translate(1396.62 1440.7) scale(1.043 1)" font-size="60">10</text><text transform="translate(1461.47 1272) scale(1.000 1)" font-size="40.3">1</text><text transform="translate(1399.51 1295.6) scale(1.043 1)" font-size="60">10</text>
<text transform="translate(1858.1 1315.7) scale(1.035 1.000)" font-size="60.6" font-weight="bold">Υ</text><text class="t" transform="translate(1912.64 1308.23) scale(1.037 0.928)" font-size="60.6">(</text><text class="t" transform="translate(1940.1 1315.7) scale(0.811 1.000)" font-size="60.6">2</text><text class="t" transform="translate(1966.98 1315.7) scale(1.057 1.000)" font-size="60.6">S</text><text class="t" transform="translate(2002.84 1308.23) scale(1.037 0.928)" font-size="60.6">)</text><text class="t" transform="translate(2065.49 1315.7) scale(1.120 1.000)" font-size="60.6">a</text><text class="t" transform="translate(2103.84 1315.7) scale(1.120 1.000)" font-size="60.6">t</text><text class="t" transform="translate(2163.66 1315.7) scale(0.885 1.000)" font-size="60.6">L</text><text class="t" transform="translate(2194.44 1315.7) scale(0.760 1.000)" font-size="60.6">H</text><text class="t" transform="translate(2228.61 1315.7) scale(0.809 1.000)" font-size="60.6">C</text><text class="t" transform="translate(2407.15 1290.93) scale(0.957 0.928)" font-size="60.6">(</text><text class="t" transform="translate(2429.94 1298.4) scale(1.120 1.000)" font-size="60.6">e</text><text class="t" transform="translate(2462.93 1290.93) scale(1.009 0.928)" font-size="60.6">)</text><text class="t" transform="translate(1858.34 1384.2) scale(0.948 1.000)" font-size="60.6">P</text><text class="t" transform="translate(1892.41 1384.2) scale(1.000 1.000)" font-size="60.6">b</text><text class="t" transform="translate(1921.81 1384.2) scale(0.993 1.000)" font-size="60.6">−</text><text class="t" transform="translate(1955.55 1384.2) scale(0.948 1.000)" font-size="60.6">P</text><text class="t" transform="translate(1989.61 1384.2) scale(1.000 1.000)" font-size="60.6">b</text><text class="t" transform="translate(2052.94 1384.2) scale(1.000 1.000)" font-size="60.6">2</text><text class="t" transform="translate(2093.41 1384.2) scale(1.000 1.000)" font-size="60.6">.</text><text transform="translate(2118.59 1384.2) scale(0.968 1.000)" font-size="60.6" font-weight="bold">7</text><text class="t" transform="translate(2151.9 1384.2) scale(1.000 1.000)" font-size="60.6">6</text><text class="t" transform="translate(2216.61 1384.2) scale(0.809 1.000)" font-size="60.6">T</text><text class="t" transform="translate(2249.59 1384.2) scale(1.120 1.000)" font-size="60.6">e</text><text class="t" transform="translate(2281.57 1384.2) scale(0.706 1.000)" font-size="60.6">V</text>
<path d="M1546.5 1965.6H1660.8" fill="none" stroke="#FF00FF" stroke-width="7" stroke-linecap="round" stroke-linejoin="round" stroke-dasharray="29 26.6 0 26.6"/>
<text class="t" transform="translate(1690.56 1983.6) scale(1.042 1.000)" font-size="54">c</text>
<text class="t" transform="translate(1719.17 1983.6) scale(0.962 1.000)" font-size="54">o</text>
<text class="t" transform="translate(1750 1983.6) scale(0.962 1.000)" font-size="54">h</text>
<text class="t" transform="translate(1777.81 1983.6) scale(1.120 1.000)" font-size="54">.</text>
<text class="t" transform="translate(1806.58 1983.6) scale(0.986 1.000)" font-size="54">+</text>
<text class="t" transform="translate(1840.9 1983.6) scale(1.120 1.000)" font-size="54">f</text>
<text class="t" transform="translate(1865.83 1983.6) scale(1.117 1.000)" font-size="54">r</text>
<text class="t" transform="translate(1895.19 1983.6) scale(1.118 1.000)" font-size="54">a</text>
<text class="t" transform="translate(1925.35 1983.6) scale(0.970 1.000)" font-size="54">g</text>
<text class="t" transform="translate(1953.07 1983.6) scale(1.120 1.000)" font-size="54">.</text>
<path d="M1546.5 2023.2H1660.8" fill="none" stroke="#E8453C" stroke-width="7.8" stroke-linecap="round" stroke-linejoin="round" stroke-dasharray="0 40.1"/>
<text class="t" transform="translate(1691.02 2041.2) scale(0.760 1.000)" font-size="54">O</text>
<text class="t" transform="translate(1724.75 2041.2) scale(1.120 1.000)" font-size="54">I</text>
<text class="t" transform="translate(1747.91 2041.2) scale(0.853 1.000)" font-size="54">C</text>
<text class="t" transform="translate(1777.09 2041.2) scale(0.974 1.000)" font-size="54">+</text>
<text class="t" transform="translate(1811.31 2041.2) scale(1.120 1.000)" font-size="54">f</text>
<text class="t" transform="translate(1836.53 2041.2) scale(1.104 1.000)" font-size="54">r</text>
<text class="t" transform="translate(1865.34 2041.2) scale(1.120 1.000)" font-size="54">a</text>
<text class="t" transform="translate(1895.23 2041.2) scale(0.996 1.000)" font-size="54">g</text>
<text class="t" transform="translate(1922.61 2041.2) scale(1.120 1.000)" font-size="54">.</text>
<path d="M1546.5 2080.1H1660.8" fill="none" stroke="#0000FF" stroke-width="7" stroke-linecap="round" stroke-linejoin="round" stroke-dasharray="19.4 26.5 0 26.5 0 27.3"/>
<text class="t" transform="translate(1691.89 2098.7) scale(0.716 1.000)" font-size="54">U</text>
<text class="t" transform="translate(1724.75 2098.7) scale(1.120 1.000)" font-size="54">I</text>
<text class="t" transform="translate(1747.91 2098.7) scale(0.853 1.000)" font-size="54">C</text>
<text class="t" transform="translate(1777.09 2098.7) scale(0.974 1.000)" font-size="54">+</text>
<text class="t" transform="translate(1811.31 2098.7) scale(1.120 1.000)" font-size="54">f</text>
<text class="t" transform="translate(1836.53 2098.7) scale(1.104 1.000)" font-size="54">r</text>
<text class="t" transform="translate(1865.34 2098.7) scale(1.120 1.000)" font-size="54">a</text>
<text class="t" transform="translate(1895.23 2098.7) scale(0.996 1.000)" font-size="54">g</text>
<text class="t" transform="translate(1922.61 2098.7) scale(1.120 1.000)" font-size="54">.</text>
<path d="M1546.5 2137.7H1660.8" fill="none" stroke="#FF0000" stroke-width="7" stroke-linecap="round" stroke-linejoin="round" stroke-dasharray="23.3 41"/>
<text class="t" transform="translate(1692.19 2155.6) scale(0.959 1.000)" font-size="54">h</text>
<text class="t" transform="translate(1720.85 2155.6) scale(1.072 1.000)" font-size="54">a</text>
<text class="t" transform="translate(1750.25 2155.6) scale(0.975 1.000)" font-size="54">d</text>
<text class="t" transform="translate(1778.44 2155.6) scale(1.120 1.000)" font-size="54">.</text>
<text class="t" transform="translate(1811.12 2155.6) scale(1.120 1.000)" font-size="54">s</text>
<text class="t" transform="translate(1839.56 2155.6) scale(1.084 1.000)" font-size="54">c</text>
<text class="t" transform="translate(1868.03 2155.6) scale(1.115 1.000)" font-size="54">a</text>
<text class="t" transform="translate(1901.87 2155.6) scale(1.120 1.000)" font-size="54">t</text>
<text class="t" transform="translate(1923.87 2155.6) scale(1.120 1.000)" font-size="54">.</text>
<text class="t" transform="translate(1953.48 2155.6) scale(0.983 1.000)" font-size="54">+</text>
<text class="t" transform="translate(1988.11 2155.6) scale(1.120 1.000)" font-size="54">f</text>
<text class="t" transform="translate(2014.31 2155.6) scale(1.120 1.000)" font-size="54">r</text>
<text class="t" transform="translate(2041.81 2155.6) scale(1.115 1.000)" font-size="54">a</text>
<text class="t" transform="translate(2071.78 2155.6) scale(1.005 1.000)" font-size="54">g</text>
<text class="t" transform="translate(2099.48 2155.6) scale(1.120 1.000)" font-size="54">.</text>
<path d="M1546.5 2195.2H1660.8" fill="none" stroke="#000" stroke-width="7.2" stroke-linecap="round" stroke-linejoin="round"/>
<text class="t" transform="translate(1689.24 2213.2) scale(0.958 1.000)" font-size="54">S</text>
<text class="t" transform="translate(1717.71 2213.2) scale(0.677 1.000)" font-size="54">U</text>
<text class="t" transform="translate(1747.87 2213.2) scale(0.636 1.000)" font-size="54">M</text>
<text transform="translate(1896.64 2382.3) scale(1.012 1.000)" font-size="59">p</text><text transform="translate(1929.45 2397.8) scale(0.828 1.000)" font-size="40">T</text><text transform="translate(1957.85 2379.47) scale(1.150 1.018)" font-size="59">[</text><text transform="translate(1982.84 2382.3) scale(0.758 1.000)" font-size="59">G</text><text transform="translate(2017.38 2382.3) scale(1.102 1.000)" font-size="59">e</text><text transform="translate(2049.01 2382.3) scale(0.704 1.000)" font-size="59">V</text><text transform="translate(2082.76 2379.47) scale(1.150 1.018)" font-size="59">]</text>
<text transform="translate(1330.5 2032.45) rotate(-90) scale(1.022 1.000)" x="-16.5" font-size="63">d</text><text transform="translate(1330.5 1998.38) rotate(-90) scale(0.983 1.000)" x="-17.7" font-size="63" stroke="#000" stroke-width="0.7">σ</text><text transform="translate(1330.5 1963.51) rotate(-90) scale(1.250 1.000)" x="-8.75" font-size="63">/</text><text transform="translate(1330.5 1931.63) rotate(-90) scale(1.022 1.000)" x="-16.5" font-size="63">d</text><text transform="translate(1330.5 1901.94) rotate(-90) scale(1.003 1.000)" x="-15.03" font-size="63">p</text><text transform="translate(1337.9 1875.04) rotate(-90) scale(0.972 1.000)" x="-12.86" font-size="42">T</text><text transform="translate(1330.5 1853.22) rotate(-90) scale(0.785 1.000)" x="-17.8" font-size="63">×</text><text transform="translate(1330.5 1826.87) rotate(-90) scale(0.754 1.000)" x="-20.38" font-size="63">B</text><text transform="translate(1330.5 1798.87) rotate(-90) scale(1.107 1.000)" x="-10.84" font-size="63">r</text><text transform="translate(1323.14 1765.99) rotate(-90) scale(0.893 0.996)" x="-10.86" font-size="63">(</text><text transform="translate(1330.5 1738.64) rotate(-90) scale(1.085 1.000)" x="-18.15" font-size="63" stroke="#000" stroke-width="0.7">μ</text><text transform="translate(1298.76 1713.24) rotate(-90) scale(1.228 1.000)" x="-8.47" font-size="30">+</text><text transform="translate(1330.5 1685.94) rotate(-90) scale(1.138 1.000)" x="-18.15" font-size="63" stroke="#000" stroke-width="0.7">μ</text><text transform="translate(1298.56 1660.53) rotate(-90) scale(1.228 1.000)" x="-8.47" font-size="30">−</text><text transform="translate(1323.14 1641.15) rotate(-90) scale(0.856 0.996)" x="-10.12" font-size="63">)</text><text transform="translate(1328.38 1573.26) rotate(-90) scale(1.165 1.059)" x="-11.69" font-size="63">[</text><text transform="translate(1330.5 1550.69) rotate(-90) scale(0.989 1.000)" x="-16" font-size="63">n</text><text transform="translate(1330.5 1521.3) rotate(-90) scale(1.031 1.000)" x="-14.55" font-size="63">b</text><text transform="translate(1330.5 1489.96) rotate(-90) scale(1.250 1.000)" x="-8.75" font-size="63">/</text><text transform="translate(1330.5 1458.68) rotate(-90) scale(0.793 1.000)" x="-23.06" font-size="63">G</text><text transform="translate(1330.5 1428.04) rotate(-90) scale(1.021 1.000)" x="-14.12" font-size="63">e</text><text transform="translate(1330.5 1400.45) rotate(-90) scale(0.653 1.000)" x="-22.75" font-size="63">V</text><text transform="translate(1328.38 1378.58) rotate(-90) scale(0.895 1.059)" x="-9.29" font-size="63">]</text>
<clipPath id="clip-f"><rect x="2787.6" y="1227" width="1012.4" height="1015"/></clipPath>
<g clip-path="url(#clip-f)"><path d="M2787.6 1624.93 L2850.88 1689.77 L2914.15 1745.05 L2977.42 1793.19 L3040.7 1835.88 L3103.97 1874.3 L3167.25 1909.3 L3230.53 1941.51 L3293.8 1971.42 L3357.07 1999.38 L3420.35 2025.68 L3483.62 2050.57 L3546.9 2074.21 L3610.18 2096.78 L3673.45 2118.39 L3736.72 2139.14 L3800 2159.14" fill="none" stroke="#E8453C" stroke-width="7.8" stroke-linecap="round" stroke-linejoin="round" stroke-dasharray="0 39.5" stroke-dashoffset="1.11"/><path d="M2787.6 1471.01 L2850.88 1547.73 L2914.15 1609.98 L2977.42 1662.84 L3040.7 1709.28 L3103.97 1751.16 L3167.25 1789.66 L3230.53 1825.63 L3293.8 1859.63 L3357.07 1892.07 L3420.35 1923.27 L3483.62 1953.45 L3546.9 1982.79 L3610.18 2011.42 L3673.45 2039.47 L3736.72 2067 L3800 2094.09" fill="none" stroke="#FF00FF" stroke-width="7" stroke-linecap="round" stroke-linejoin="round" stroke-dasharray="28.57 26.2 0 26.2" stroke-dashoffset="13.69"/><path d="M2787.6 1453.86 L2850.88 1516.43 L2914.15 1570.39 L2977.42 1617.43 L3040.7 1659.01 L3103.97 1696.21 L3167.25 1729.88 L3230.53 1760.66 L3293.8 1789.04 L3357.07 1815.41 L3420.35 1840.07 L3483.62 1863.27 L3546.9 1885.21 L3610.18 1906.06 L3673.45 1925.95 L3736.72 1944.98 L3800 1963.27" fill="none" stroke="#0000FF" stroke-width="7" stroke-linecap="round" stroke-linejoin="round" stroke-dasharray="19.11 26.1 0 26.1 0 26.89" stroke-dashoffset="8.14"/><path d="M2787.6 1279.01 L2850.88 1346.57 L2914.15 1401.58 L2977.42 1448.78 L3040.7 1490.57 L3103.97 1528.28 L3167.25 1562.77 L3230.53 1594.59 L3293.8 1624.16 L3357.07 1651.76 L3420.35 1677.64 L3483.62 1701.98 L3546.9 1724.93 L3610.18 1746.62 L3673.45 1767.16 L3736.72 1786.64 L3800 1805.15" fill="none" stroke="#FF0000" stroke-width="7" stroke-linecap="round" stroke-linejoin="round" stroke-dasharray="22.95 40.38" stroke-dashoffset="4.04"/><path d="M2787.6 1274.01 L2850.88 1341.57 L2914.15 1396.58 L2977.42 1443.78 L3040.7 1485.57 L3103.97 1523.28 L3167.25 1557.77 L3230.53 1589.59 L3293.8 1619.16 L3357.07 1646.76 L3420.35 1672.64 L3483.62 1696.98 L3546.9 1719.93 L3610.18 1741.62 L3673.45 1762.16 L3736.72 1781.64 L3800 1800.15" fill="none" stroke="#000" stroke-width="7.2" stroke-linecap="round" stroke-linejoin="round"/></g>
<path d="M2805.68 2242V2234M2805.68 1227V1235M2823.76 2242V2234M2823.76 1227V1235M2841.84 2242V2234M2841.84 1227V1235M2859.91 2242V2234M2859.91 1227V1235M2877.99 2242V2234M2877.99 1227V1235M2896.07 2242V2234M2896.07 1227V1235M2914.15 2242V2227M2914.15 1227V1242M2932.23 2242V2234M2932.23 1227V1235M2950.31 2242V2234M2950.31 1227V1235M2968.39 2242V2234M2968.39 1227V1235M2986.46 2242V2234M2986.46 1227V1235M3004.54 2242V2234M3004.54 1227V1235M3022.62 2242V2234M3022.62 1227V1235M3040.7 2242V2227M3040.7 1227V1242M3058.78 2242V2234M3058.78 1227V1235M3076.86 2242V2234M3076.86 1227V1235M3094.94 2242V2234M3094.94 1227V1235M3113.01 2242V2234M3113.01 1227V1235M3131.09 2242V2234M3131.09 1227V1235M3149.17 2242V2234M3149.17 1227V1235M3167.25 2242V2227M3167.25 1227V1242M3185.33 2242V2234M3185.33 1227V1235M3203.41 2242V2234M3203.41 1227V1235M3221.49 2242V2234M3221.49 1227V1235M3239.56 2242V2234M3239.56 1227V1235M3257.64 2242V2234M3257.64 1227V1235M3275.72 2242V2234M3275.72 1227V1235M3293.8 2242V2227M3293.8 1227V1242M3311.88 2242V2234M3311.88 1227V1235M3329.96 2242V2234M3329.96 1227V1235M3348.04 2242V2234M3348.04 1227V1235M3366.11 2242V2234M3366.11 1227V1235M3384.19 2242V2234M3384.19 1227V1235M3402.27 2242V2234M3402.27 1227V1235M3420.35 2242V2227M3420.35 1227V1242M3438.43 2242V2234M3438.43 1227V1235M3456.51 2242V2234M3456.51 1227V1235M3474.59 2242V2234M3474.59 1227V1235M3492.66 2242V2234M3492.66 1227V1235M3510.74 2242V2234M3510.74 1227V1235M3528.82 2242V2234M3528.82 1227V1235M3546.9 2242V2227M3546.9 1227V1242M3564.98 2242V2234M3564.98 1227V1235M3583.06 2242V2234M3583.06 1227V1235M3601.14 2242V2234M3601.14 1227V1235M3619.21 2242V2234M3619.21 1227V1235M3637.29 2242V2234M3637.29 1227V1235M3655.37 2242V2234M3655.37 1227V1235M3673.45 2242V2227M3673.45 1227V1242M3691.53 2242V2234M3691.53 1227V1235M3709.61 2242V2234M3709.61 1227V1235M3727.69 2242V2234M3727.69 1227V1235M3745.76 2242V2234M3745.76 1227V1235M3763.84 2242V2234M3763.84 1227V1235M3781.92 2242V2234M3781.92 1227V1235M2787.6 2230.92H2796.1M3800 2230.92H3791.5M2787.6 2221.41H2796.1M3800 2221.41H3791.5M2787.6 2213.17H2796.1M3800 2213.17H3791.5M2787.6 2205.9H2796.1M3800 2205.9H3791.5M2787.6 2199.4H2804.6M3800 2199.4H3783M2787.6 2156.62H2796.1M3800 2156.62H3791.5M2787.6 2131.6H2796.1M3800 2131.6H3791.5M2787.6 2113.85H2796.1M3800 2113.85H3791.5M2787.6 2100.08H2796.1M3800 2100.08H3791.5M2787.6 2088.82H2796.1M3800 2088.82H3791.5M2787.6 2079.31H2796.1M3800 2079.31H3791.5M2787.6 2071.07H2796.1M3800 2071.07H3791.5M2787.6 2063.8H2796.1M3800 2063.8H3791.5M2787.6 2057.3H2804.6M3800 2057.3H3783M2787.6 2014.52H2796.1M3800 2014.52H3791.5M2787.6 1989.5H2796.1M3800 1989.5H3791.5M2787.6 1971.75H2796.1M3800 1971.75H3791.5M2787.6 1957.98H2796.1M3800 1957.98H3791.5M2787.6 1946.72H2796.1M3800 1946.72H3791.5M2787.6 1937.21H2796.1M3800 1937.21H3791.5M2787.6 1928.97H2796.1M3800 1928.97H3791.5M2787.6 1921.7H2796.1M3800 1921.7H3791.5M2787.6 1915.2H2804.6M3800 1915.2H3783M2787.6 1872.42H2796.1M3800 1872.42H3791.5M2787.6 1847.4H2796.1M3800 1847.4H3791.5M2787.6 1829.65H2796.1M3800 1829.65H3791.5M2787.6 1815.88H2796.1M3800 1815.88H3791.5M2787.6 1804.62H2796.1M3800 1804.62H3791.5M2787.6 1795.11H2796.1M3800 1795.11H3791.5M2787.6 1786.87H2796.1M3800 1786.87H3791.5M2787.6 1779.6H2796.1M3800 1779.6H3791.5M2787.6 1773.1H2804.6M3800 1773.1H3783M2787.6 1730.32H2796.1M3800 1730.32H3791.5M2787.6 1705.3H2796.1M3800 1705.3H3791.5M2787.6 1687.55H2796.1M3800 1687.55H3791.5M2787.6 1673.78H2796.1M3800 1673.78H3791.5M2787.6 1662.52H2796.1M3800 1662.52H3791.5M2787.6 1653.01H2796.1M3800 1653.01H3791.5M2787.6 1644.77H2796.1M3800 1644.77H3791.5M2787.6 1637.5H2796.1M3800 1637.5H3791.5M2787.6 1631H2804.6M3800 1631H3783M2787.6 1588.22H2796.1M3800 1588.22H3791.5M2787.6 1563.2H2796.1M3800 1563.2H3791.5M2787.6 1545.45H2796.1M3800 1545.45H3791.5M2787.6 1531.68H2796.1M3800 1531.68H3791.5M2787.6 1520.42H2796.1M3800 1520.42H3791.5M2787.6 1510.91H2796.1M3800 1510.91H3791.5M2787.6 1502.67H2796.1M3800 1502.67H3791.5M2787.6 1495.4H2796.1M3800 1495.4H3791.5M2787.6 1488.9H2804.6M3800 1488.9H3783M2787.6 1446.12H2796.1M3800 1446.12H3791.5M2787.6 1421.1H2796.1M3800 1421.1H3791.5M2787.6 1403.35H2796.1M3800 1403.35H3791.5M2787.6 1389.58H2796.1M3800 1389.58H3791.5M2787.6 1378.32H2796.1M3800 1378.32H3791.5M2787.6 1368.81H2796.1M3800 1368.81H3791.5M2787.6 1360.57H2796.1M3800 1360.57H3791.5M2787.6 1353.3H2796.1M3800 1353.3H3791.5M2787.6 1346.8H2804.6M3800 1346.8H3783M2787.6 1304.02H2796.1M3800 1304.02H3791.5M2787.6 1279H2796.1M3800 1279H3791.5M2787.6 1261.25H2796.1M3800 1261.25H3791.5M2787.6 1247.48H2796.1M3800 1247.48H3791.5M2787.6 1236.22H2796.1M3800 1236.22H3791.5" stroke="#000" stroke-width="3.6" fill="none"/><rect x="2787.6" y="1227" width="1012.4" height="1015" fill="none" stroke="#000" stroke-width="4"/>
<text transform="translate(2755.25 2309) scale(1.072 1)" font-size="60">2</text><text transform="translate(2787.41 2309) scale(1.072 1)" font-size="60">0</text><text transform="translate(2881.68 2309) scale(1.072 1)" font-size="60">3</text><text transform="translate(2913.84 2309) scale(1.072 1)" font-size="60">0</text><text transform="translate(3009.14 2309) scale(1.072 1)" font-size="60">4</text><text transform="translate(3041.3 2309) scale(1.072 1)" font-size="60">0</text><text transform="translate(3134.45 2309) scale(1.072 1)" font-size="60">5</text><text transform="translate(3166.61 2309) scale(1.072 1)" font-size="60">0</text><text transform="translate(3261.48 2309) scale(1.072 1)" font-size="60">6</text><text transform="translate(3293.64 2309) scale(1.072 1)" font-size="60">0</text><text transform="translate(3387.29 2309) scale(1.072 1)" font-size="60" font-weight="bold">7</text><text transform="translate(3419.45 2309) scale(1.072 1)" font-size="60">0</text><text transform="translate(3514.74 2309) scale(1.072 1)" font-size="60">8</text><text transform="translate(3546.9 2309) scale(1.072 1)" font-size="60">0</text><text transform="translate(3641.48 2309) scale(1.072 1)" font-size="60">9</text><text transform="translate(3673.64 2309) scale(1.072 1)" font-size="60">0</text><text transform="translate(3750.16 2309) scale(1.072 1)" font-size="60">1</text><text transform="translate(3782.32 2309) scale(1.072 1)" font-size="60">0</text><text transform="translate(3814.48 2309) scale(1.072 1)" font-size="60">0</text><text transform="translate(2724.3 2201.6) scale(1.000 1)" font-size="40.3">−5</text><text transform="translate(2660.8 2225.2) scale(1.043 1)" font-size="60">10</text><text transform="translate(2723.35 2059.5) scale(1.000 1)" font-size="40.3">−4</text><text transform="translate(2659.86 2083.1) scale(1.043 1)" font-size="60">10</text><text transform="translate(2724.3 1917.4) scale(1.000 1)" font-size="40.3">−3</text><text transform="translate(2660.8 1941) scale(1.043 1)" font-size="60">10</text><text transform="translate(2724.95 1775.3) scale(1.000 1)" font-size="40.3">−2</text><text transform="translate(2661.45 1798.9) scale(1.043 1)" font-size="60">10</text><text transform="translate(2725.14 1633.2) scale(1.000 1)" font-size="40.3">−1</text><text transform="translate(2661.65 1656.8) scale(1.043 1)" font-size="60">10</text><text transform="translate(2746.98 1491.1) scale(1.000 1)" font-size="40.3">0</text><text transform="translate(2683.02 1514.7) scale(1.043 1)" font-size="60">10</text><text transform="translate(2747.87 1349) scale(1.000 1)" font-size="40.3">1</text><text transform="translate(2685.91 1372.6) scale(1.043 1)" font-size="60">10</text>
<text transform="translate(3190.4 1303.3) scale(1.035 1.000)" font-size="60.6" font-weight="bold">Υ</text><text class="t" transform="translate(3244.94 1295.83) scale(1.037 0.928)" font-size="60.6">(</text><text class="t" transform="translate(3272.28 1303.3) scale(0.787 1.000)" font-size="60.6">3</text><text class="t" transform="translate(3299.28 1303.3) scale(1.057 1.000)" font-size="60.6">S</text><text class="t" transform="translate(3335.14 1295.83) scale(1.037 0.928)" font-size="60.6">)</text><text class="t" transform="translate(3398.01 1303.3) scale(1.120 1.000)" font-size="60.6">a</text><text class="t" transform="translate(3436.42 1303.3) scale(1.120 1.000)" font-size="60.6">t</text><text class="t" transform="translate(3496.15 1303.3) scale(0.888 1.000)" font-size="60.6">L</text><text class="t" transform="translate(3527.07 1303.3) scale(0.763 1.000)" font-size="60.6">H</text><text class="t" transform="translate(3561.38 1303.3) scale(0.812 1.000)" font-size="60.6">C</text><text class="t" transform="translate(3689.15 1288.53) scale(0.956 0.928)" font-size="60.6">(</text><text class="t" transform="translate(3714.76 1296) scale(1.120 1.000)" font-size="60.6">f</text><text class="t" transform="translate(3744.85 1288.53) scale(1.007 0.928)" font-size="60.6">)</text><text class="t" transform="translate(3190.64 1372.4) scale(0.948 1.000)" font-size="60.6">P</text><text class="t" transform="translate(3224.71 1372.4) scale(1.000 1.000)" font-size="60.6">b</text><text class="t" transform="translate(3254.11 1372.4) scale(0.993 1.000)" font-size="60.6">−</text><text class="t" transform="translate(3287.85 1372.4) scale(0.948 1.000)" font-size="60.6">P</text><text class="t" transform="translate(3321.91 1372.4) scale(1.000 1.000)" font-size="60.6">b</text><text class="t" transform="translate(3385.44 1372.4) scale(1.000 1.000)" font-size="60.6">2</text><text class="t" transform="translate(3425.91 1372.4) scale(1.000 1.000)" font-size="60.6">.</text><text transform="translate(3451.09 1372.4) scale(0.968 1.000)" font-size="60.6" font-weight="bold">7</text><text class="t" transform="translate(3484.4 1372.4) scale(1.000 1.000)" font-size="60.6">6</text><text class="t" transform="translate(3550.83 1372.4) scale(0.794 1.000)" font-size="60.6">T</text><text class="t" transform="translate(3582.94 1372.4) scale(1.120 1.000)" font-size="60.6">e</text><text class="t" transform="translate(3614.61 1372.4) scale(0.694 1.000)" font-size="60.6">V</text>
<path d="M2837.6 1967.3H2950.8" fill="none" stroke="#FF00FF" stroke-width="7" stroke-linecap="round" stroke-linejoin="round" stroke-dasharray="29 26.6 0 26.6"/>
<text class="t" transform="translate(2980.96 1985.3) scale(1.042 1.000)" font-size="54">c</text>
<text class="t" transform="translate(3009.57 1985.3) scale(0.962 1.000)" font-size="54">o</text>
<text class="t" transform="translate(3040.4 1985.3) scale(0.962 1.000)" font-size="54">h</text>
<text class="t" transform="translate(3068.21 1985.3) scale(1.120 1.000)" font-size="54">.</text>
<text class="t" transform="translate(3096.98 1985.3) scale(0.986 1.000)" font-size="54">+</text>
<text class="t" transform="translate(3131.3 1985.3) scale(1.120 1.000)" font-size="54">f</text>
<text class="t" transform="translate(3156.23 1985.3) scale(1.117 1.000)" font-size="54">r</text>
<text class="t" transform="translate(3185.59 1985.3) scale(1.118 1.000)" font-size="54">a</text>
<text class="t" transform="translate(3215.75 1985.3) scale(0.970 1.000)" font-size="54">g</text>
<text class="t" transform="translate(3243.47 1985.3) scale(1.120 1.000)" font-size="54">.</text>
<path d="M2837.6 2024.9H2950.8" fill="none" stroke="#E8453C" stroke-width="7.8" stroke-linecap="round" stroke-linejoin="round" stroke-dasharray="0 40.1"/>
<text class="t" transform="translate(2981.42 2042.9) scale(0.760 1.000)" font-size="54">O</text>
<text class="t" transform="translate(3015.15 2042.9) scale(1.120 1.000)" font-size="54">I</text>
<text class="t" transform="translate(3038.31 2042.9) scale(0.853 1.000)" font-size="54">C</text>
<text class="t" transform="translate(3067.49 2042.9) scale(0.974 1.000)" font-size="54">+</text>
<text class="t" transform="translate(3101.71 2042.9) scale(1.120 1.000)" font-size="54">f</text>
<text class="t" transform="translate(3126.93 2042.9) scale(1.104 1.000)" font-size="54">r</text>
<text class="t" transform="translate(3155.74 2042.9) scale(1.120 1.000)" font-size="54">a</text>
<text class="t" transform="translate(3185.63 2042.9) scale(0.996 1.000)" font-size="54">g</text>
<text class="t" transform="translate(3213.01 2042.9) scale(1.120 1.000)" font-size="54">.</text>
<path d="M2837.6 2082.5H2950.8" fill="none" stroke="#0000FF" stroke-width="7" stroke-linecap="round" stroke-linejoin="round" stroke-dasharray="19.4 26.5 0 26.5 0 27.3"/>
<text class="t" transform="translate(2982.29 2100.4) scale(0.716 1.000)" font-size="54">U</text>
<text class="t" transform="translate(3015.15 2100.4) scale(1.120 1.000)" font-size="54">I</text>
<text class="t" transform="translate(3038.31 2100.4) scale(0.853 1.000)" font-size="54">C</text>
<text class="t" transform="translate(3067.49 2100.4) scale(0.974 1.000)" font-size="54">+</text>
<text class="t" transform="translate(3101.71 2100.4) scale(1.120 1.000)" font-size="54">f</text>
<text class="t" transform="translate(3126.93 2100.4) scale(1.104 1.000)" font-size="54">r</text>
<text class="t" transform="translate(3155.74 2100.4) scale(1.120 1.000)" font-size="54">a</text>
<text class="t" transform="translate(3185.63 2100.4) scale(0.996 1.000)" font-size="54">g</text>
<text class="t" transform="translate(3213.01 2100.4) scale(1.120 1.000)" font-size="54">.</text>
<path d="M2837.6 2140H2950.8" fill="none" stroke="#FF0000" stroke-width="7" stroke-linecap="round" stroke-linejoin="round" stroke-dasharray="23.3 41"/>
<text class="t" transform="translate(2982.59 2158) scale(0.959 1.000)" font-size="54">h</text>
<text class="t" transform="translate(3011.25 2158) scale(1.072 1.000)" font-size="54">a</text>
<text class="t" transform="translate(3040.65 2158) scale(0.975 1.000)" font-size="54">d</text>
<text class="t" transform="translate(3068.84 2158) scale(1.120 1.000)" font-size="54">.</text>
<text class="t" transform="translate(3101.52 2158) scale(1.120 1.000)" font-size="54">s</text>
<text class="t" transform="translate(3129.96 2158) scale(1.084 1.000)" font-size="54">c</text>
<text class="t" transform="translate(3158.43 2158) scale(1.115 1.000)" font-size="54">a</text>
<text class="t" transform="translate(3192.27 2158) scale(1.120 1.000)" font-size="54">t</text>
<text class="t" transform="translate(3214.27 2158) scale(1.120 1.000)" font-size="54">.</text>
<text class="t" transform="translate(3243.88 2158) scale(0.983 1.000)" font-size="54">+</text>
<text class="t" transform="translate(3278.51 2158) scale(1.120 1.000)" font-size="54">f</text>
<text class="t" transform="translate(3304.71 2158) scale(1.120 1.000)" font-size="54">r</text>
<text class="t" transform="translate(3332.21 2158) scale(1.115 1.000)" font-size="54">a</text>
<text class="t" transform="translate(3362.18 2158) scale(1.005 1.000)" font-size="54">g</text>
<text class="t" transform="translate(3389.88 2158) scale(1.120 1.000)" font-size="54">.</text>
<path d="M2837.6 2197.6H2950.8" fill="none" stroke="#000" stroke-width="7.2" stroke-linecap="round" stroke-linejoin="round"/>
<text class="t" transform="translate(2979.64 2215.6) scale(0.958 1.000)" font-size="54">S</text>
<text class="t" transform="translate(3008.11 2215.6) scale(0.677 1.000)" font-size="54">U</text>
<text class="t" transform="translate(3038.27 2215.6) scale(0.636 1.000)" font-size="54">M</text>
<text transform="translate(3177.14 2377.9) scale(1.010 1.000)" font-size="59">p</text><text transform="translate(3209.89 2393.4) scale(0.826 1.000)" font-size="40">T</text><text transform="translate(3238.21 2375.07) scale(1.150 1.018)" font-size="59">[</text><text transform="translate(3263.17 2377.9) scale(0.756 1.000)" font-size="59">G</text><text transform="translate(3297.64 2377.9) scale(1.100 1.000)" font-size="59">e</text><text transform="translate(3329.21 2377.9) scale(0.702 1.000)" font-size="59">V</text><text transform="translate(3362.87 2375.07) scale(1.150 1.018)" font-size="59">]</text>
<text transform="translate(2631.6 2071.05) rotate(-90) scale(1.022 1.000)" x="-16.5" font-size="63">d</text><text transform="translate(2631.6 2036.98) rotate(-90) scale(0.983 1.000)" x="-17.7" font-size="63" stroke="#000" stroke-width="0.7">σ</text><text transform="translate(2631.6 2002.11) rotate(-90) scale(1.250 1.000)" x="-8.75" font-size="63">/</text><text transform="translate(2631.6 1970.23) rotate(-90) scale(1.022 1.000)" x="-16.5" font-size="63">d</text><text transform="translate(2631.6 1940.54) rotate(-90) scale(1.003 1.000)" x="-15.03" font-size="63">p</text><text transform="translate(2639 1913.64) rotate(-90) scale(0.972 1.000)" x="-12.86" font-size="42">T</text><text transform="translate(2631.6 1891.82) rotate(-90) scale(0.785 1.000)" x="-17.8" font-size="63">×</text><text transform="translate(2631.6 1865.47) rotate(-90) scale(0.754 1.000)" x="-20.38" font-size="63">B</text><text transform="translate(2631.6 1837.47) rotate(-90) scale(1.107 1.000)" x="-10.84" font-size="63">r</text><text transform="translate(2624.24 1804.59) rotate(-90) scale(0.893 0.996)" x="-10.86" font-size="63">(</text><text transform="translate(2631.6 1777.24) rotate(-90) scale(1.085 1.000)" x="-18.15" font-size="63" stroke="#000" stroke-width="0.7">μ</text><text transform="translate(2599.86 1751.84) rotate(-90) scale(1.228 1.000)" x="-8.47" font-size="30">+</text><text transform="translate(2631.6 1724.54) rotate(-90) scale(1.138 1.000)" x="-18.15" font-size="63" stroke="#000" stroke-width="0.7">μ</text><text transform="translate(2599.66 1699.13) rotate(-90) scale(1.228 1.000)" x="-8.47" font-size="30">−</text><text transform="translate(2624.24 1679.75) rotate(-90) scale(0.856 0.996)" x="-10.12" font-size="63">)</text><text transform="translate(2629.48 1611.86) rotate(-90) scale(1.165 1.059)" x="-11.69" font-size="63">[</text><text transform="translate(2631.6 1589.29) rotate(-90) scale(0.989 1.000)" x="-16" font-size="63">n</text><text transform="translate(2631.6 1559.9) rotate(-90) scale(1.031 1.000)" x="-14.55" font-size="63">b</text><text transform="translate(2631.6 1528.56) rotate(-90) scale(1.250 1.000)" x="-8.75" font-size="63">/</text><text transform="translate(2631.6 1497.28) rotate(-90) scale(0.793 1.000)" x="-23.06" font-size="63">G</text><text transform="translate(2631.6 1466.64) rotate(-90) scale(1.021 1.000)" x="-14.12" font-size="63">e</text><text transform="translate(2631.6 1439.05) rotate(-90) scale(0.653 1.000)" x="-22.75" font-size="63">V</text><text transform="translate(2629.48 1417.18) rotate(-90) scale(0.895 1.059)" x="-9.29" font-size="63">]</text>
</svg></body></html>
